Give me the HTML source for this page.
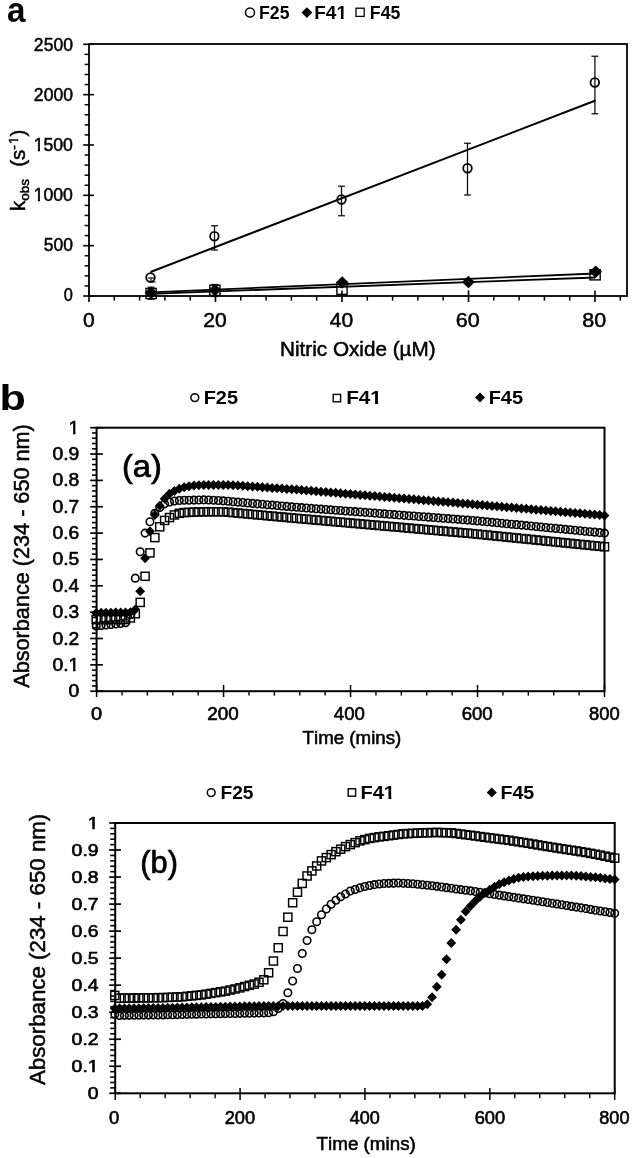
<!DOCTYPE html>
<html><head><meta charset="utf-8"><title>Figure</title>
<style>html,body{margin:0;padding:0;background:#fff}svg{display:block;filter:grayscale(1)}text{font-family:"Liberation Sans",sans-serif;fill:#000;font-kerning:none}</style></head>
<body>
<svg width="632" height="1158" viewBox="0 0 632 1158">
<rect width="632" height="1158" fill="#fff"/>
<g id="pa">
<text transform="translate(7.00,22.30) scale(0.9224,1)" font-size="36" font-weight="bold" fill="#000">a</text>
<circle cx="250.00" cy="12.50" r="4.5" fill="none" stroke="#000" stroke-width="1.5"/>
<text transform="translate(259.10,18.75) scale(1.0079,1)" font-size="17.5" font-weight="bold" fill="#000">F25</text>
<path d="M306.90 7.20L312.30 12.60L306.90 18.00L301.50 12.60Z" fill="#000"/>
<text transform="translate(314.26,18.75) scale(1.0867,1)" font-size="17.5" font-weight="bold" fill="#000">F41</text>
<g transform="translate(314.26,18.75) scale(1.0867,1)" fill="#fff"><rect x="20.67" y="-2.64" width="3.78" height="4.34"/><rect x="26.96" y="-2.64" width="3.56" height="4.34"/></g>
<rect x="356.00" y="8.20" width="8.2" height="8.2" fill="none" stroke="#000" stroke-width="1.3"/>
<text transform="translate(369.85,18.75) scale(1.0096,1)" font-size="17.5" font-weight="bold" fill="#000">F45</text>
<rect x="89.0" y="44.0" width="538.0" height="252.0" fill="none" stroke="#000" stroke-width="1.8"/>
<line x1="83.20" y1="296.00" x2="94.00" y2="296.00" stroke="#000" stroke-width="1.6" stroke-linecap="butt"/>
<line x1="84.60" y1="285.93" x2="89.00" y2="285.93" stroke="#000" stroke-width="1.5" stroke-linecap="butt"/>
<line x1="84.60" y1="275.86" x2="89.00" y2="275.86" stroke="#000" stroke-width="1.5" stroke-linecap="butt"/>
<line x1="84.60" y1="265.80" x2="89.00" y2="265.80" stroke="#000" stroke-width="1.5" stroke-linecap="butt"/>
<line x1="84.60" y1="255.73" x2="89.00" y2="255.73" stroke="#000" stroke-width="1.5" stroke-linecap="butt"/>
<line x1="83.20" y1="245.66" x2="94.00" y2="245.66" stroke="#000" stroke-width="1.6" stroke-linecap="butt"/>
<line x1="84.60" y1="235.59" x2="89.00" y2="235.59" stroke="#000" stroke-width="1.5" stroke-linecap="butt"/>
<line x1="84.60" y1="225.52" x2="89.00" y2="225.52" stroke="#000" stroke-width="1.5" stroke-linecap="butt"/>
<line x1="84.60" y1="215.46" x2="89.00" y2="215.46" stroke="#000" stroke-width="1.5" stroke-linecap="butt"/>
<line x1="84.60" y1="205.39" x2="89.00" y2="205.39" stroke="#000" stroke-width="1.5" stroke-linecap="butt"/>
<line x1="83.20" y1="195.32" x2="94.00" y2="195.32" stroke="#000" stroke-width="1.6" stroke-linecap="butt"/>
<line x1="84.60" y1="185.25" x2="89.00" y2="185.25" stroke="#000" stroke-width="1.5" stroke-linecap="butt"/>
<line x1="84.60" y1="175.18" x2="89.00" y2="175.18" stroke="#000" stroke-width="1.5" stroke-linecap="butt"/>
<line x1="84.60" y1="165.12" x2="89.00" y2="165.12" stroke="#000" stroke-width="1.5" stroke-linecap="butt"/>
<line x1="84.60" y1="155.05" x2="89.00" y2="155.05" stroke="#000" stroke-width="1.5" stroke-linecap="butt"/>
<line x1="83.20" y1="144.98" x2="94.00" y2="144.98" stroke="#000" stroke-width="1.6" stroke-linecap="butt"/>
<line x1="84.60" y1="134.91" x2="89.00" y2="134.91" stroke="#000" stroke-width="1.5" stroke-linecap="butt"/>
<line x1="84.60" y1="124.84" x2="89.00" y2="124.84" stroke="#000" stroke-width="1.5" stroke-linecap="butt"/>
<line x1="84.60" y1="114.78" x2="89.00" y2="114.78" stroke="#000" stroke-width="1.5" stroke-linecap="butt"/>
<line x1="84.60" y1="104.71" x2="89.00" y2="104.71" stroke="#000" stroke-width="1.5" stroke-linecap="butt"/>
<line x1="83.20" y1="94.64" x2="94.00" y2="94.64" stroke="#000" stroke-width="1.6" stroke-linecap="butt"/>
<line x1="84.60" y1="84.57" x2="89.00" y2="84.57" stroke="#000" stroke-width="1.5" stroke-linecap="butt"/>
<line x1="84.60" y1="74.50" x2="89.00" y2="74.50" stroke="#000" stroke-width="1.5" stroke-linecap="butt"/>
<line x1="84.60" y1="64.44" x2="89.00" y2="64.44" stroke="#000" stroke-width="1.5" stroke-linecap="butt"/>
<line x1="84.60" y1="54.37" x2="89.00" y2="54.37" stroke="#000" stroke-width="1.5" stroke-linecap="butt"/>
<line x1="83.20" y1="44.30" x2="94.00" y2="44.30" stroke="#000" stroke-width="1.6" stroke-linecap="butt"/>
<line x1="89.00" y1="290.40" x2="89.00" y2="302.00" stroke="#000" stroke-width="1.6" stroke-linecap="butt"/>
<line x1="114.30" y1="296.00" x2="114.30" y2="300.60" stroke="#000" stroke-width="1.5" stroke-linecap="butt"/>
<line x1="139.60" y1="296.00" x2="139.60" y2="300.60" stroke="#000" stroke-width="1.5" stroke-linecap="butt"/>
<line x1="164.90" y1="296.00" x2="164.90" y2="300.60" stroke="#000" stroke-width="1.5" stroke-linecap="butt"/>
<line x1="190.20" y1="296.00" x2="190.20" y2="300.60" stroke="#000" stroke-width="1.5" stroke-linecap="butt"/>
<line x1="215.50" y1="290.40" x2="215.50" y2="302.00" stroke="#000" stroke-width="1.6" stroke-linecap="butt"/>
<line x1="240.80" y1="296.00" x2="240.80" y2="300.60" stroke="#000" stroke-width="1.5" stroke-linecap="butt"/>
<line x1="266.10" y1="296.00" x2="266.10" y2="300.60" stroke="#000" stroke-width="1.5" stroke-linecap="butt"/>
<line x1="291.40" y1="296.00" x2="291.40" y2="300.60" stroke="#000" stroke-width="1.5" stroke-linecap="butt"/>
<line x1="316.70" y1="296.00" x2="316.70" y2="300.60" stroke="#000" stroke-width="1.5" stroke-linecap="butt"/>
<line x1="342.00" y1="290.40" x2="342.00" y2="302.00" stroke="#000" stroke-width="1.6" stroke-linecap="butt"/>
<line x1="367.30" y1="296.00" x2="367.30" y2="300.60" stroke="#000" stroke-width="1.5" stroke-linecap="butt"/>
<line x1="392.60" y1="296.00" x2="392.60" y2="300.60" stroke="#000" stroke-width="1.5" stroke-linecap="butt"/>
<line x1="417.90" y1="296.00" x2="417.90" y2="300.60" stroke="#000" stroke-width="1.5" stroke-linecap="butt"/>
<line x1="443.20" y1="296.00" x2="443.20" y2="300.60" stroke="#000" stroke-width="1.5" stroke-linecap="butt"/>
<line x1="468.50" y1="290.40" x2="468.50" y2="302.00" stroke="#000" stroke-width="1.6" stroke-linecap="butt"/>
<line x1="493.80" y1="296.00" x2="493.80" y2="300.60" stroke="#000" stroke-width="1.5" stroke-linecap="butt"/>
<line x1="519.10" y1="296.00" x2="519.10" y2="300.60" stroke="#000" stroke-width="1.5" stroke-linecap="butt"/>
<line x1="544.40" y1="296.00" x2="544.40" y2="300.60" stroke="#000" stroke-width="1.5" stroke-linecap="butt"/>
<line x1="569.70" y1="296.00" x2="569.70" y2="300.60" stroke="#000" stroke-width="1.5" stroke-linecap="butt"/>
<line x1="595.00" y1="290.40" x2="595.00" y2="302.00" stroke="#000" stroke-width="1.6" stroke-linecap="butt"/>
<line x1="620.30" y1="296.00" x2="620.30" y2="300.60" stroke="#000" stroke-width="1.5" stroke-linecap="butt"/>
<text transform="translate(33.87,51.20) scale(1.0037,1)" font-size="17.5" stroke="#000" stroke-width="0.5" fill="#000">2500</text>
<text transform="translate(33.87,101.20) scale(1.0037,1)" font-size="17.5" stroke="#000" stroke-width="0.5" fill="#000">2000</text>
<text transform="translate(33.67,151.20) scale(1.0089,1)" font-size="17.5" stroke="#000" stroke-width="0.5" fill="#000">1500</text>
<g transform="translate(33.67,151.20) scale(1.0089,1)" fill="#fff"><rect x="0.23" y="-2.41" width="3.87" height="4.11"/><rect x="6.25" y="-2.41" width="3.73" height="4.11"/></g>
<text transform="translate(33.67,201.20) scale(1.0089,1)" font-size="17.5" stroke="#000" stroke-width="0.5" fill="#000">1000</text>
<g transform="translate(33.67,201.20) scale(1.0089,1)" fill="#fff"><rect x="0.23" y="-2.41" width="3.87" height="4.11"/><rect x="6.25" y="-2.41" width="3.73" height="4.11"/></g>
<text transform="translate(43.80,251.20) scale(1.0005,1)" font-size="17.5" stroke="#000" stroke-width="0.5" fill="#000">500</text>
<text transform="translate(63.85,301.20) scale(0.9323,1)" font-size="17.5" stroke="#000" stroke-width="0.5" fill="#000">0</text>
<text transform="translate(82.91,327.10) scale(1.0526,1)" font-size="20" stroke="#000" stroke-width="0.5" fill="#000">0</text>
<text transform="translate(203.20,327.10) scale(1.0539,1)" font-size="20" stroke="#000" stroke-width="0.5" fill="#000">20</text>
<text transform="translate(329.72,327.10) scale(1.0526,1)" font-size="20" stroke="#000" stroke-width="0.5" fill="#000">40</text>
<text transform="translate(455.67,327.10) scale(1.0784,1)" font-size="20" stroke="#000" stroke-width="0.5" fill="#000">60</text>
<text transform="translate(582.28,327.10) scale(1.0732,1)" font-size="20" stroke="#000" stroke-width="0.5" fill="#000">80</text>
<text transform="translate(280.09,356.30) scale(1.0193,1)" font-size="20.3" stroke="#000" stroke-width="0.5" fill="#000">Nitric Oxide (µM)</text>
<g transform="translate(25.2,211) rotate(-90)" stroke="#000" stroke-width="0.5"><text font-size="20.5"><tspan x="0" y="0">k</tspan><tspan font-size="13.5" y="4">obs</tspan><tspan x="44.2" y="0">(</tspan><tspan x="51.1" y="0">s</tspan><tspan font-size="13.5" x="61.2" y="-7.5">-</tspan><tspan font-size="13.5" x="66.9" y="-7.5">1</tspan><tspan x="74.6" y="0">)</tspan></text><rect x="67.2" y="-9.5" width="2.8" height="3.2" fill="#fff" stroke="none"/><rect x="71.8" y="-9.5" width="2.6" height="3.2" fill="#fff" stroke="none"/></g>
<line x1="150.50" y1="272.00" x2="595.50" y2="100.50" stroke="#000" stroke-width="2.0" stroke-linecap="butt"/>
<line x1="151.00" y1="292.30" x2="595.50" y2="273.50" stroke="#000" stroke-width="1.8" stroke-linecap="butt"/>
<line x1="151.00" y1="293.80" x2="595.50" y2="277.50" stroke="#000" stroke-width="1.8" stroke-linecap="butt"/>
<line x1="214.50" y1="225.75" x2="214.50" y2="250.00" stroke="#111" stroke-width="1.3" stroke-linecap="butt"/>
<line x1="211.10" y1="225.75" x2="217.90" y2="225.75" stroke="#111" stroke-width="1.3" stroke-linecap="butt"/>
<line x1="211.10" y1="250.00" x2="217.90" y2="250.00" stroke="#111" stroke-width="1.3" stroke-linecap="butt"/>
<line x1="341.50" y1="186.25" x2="341.50" y2="215.75" stroke="#111" stroke-width="1.3" stroke-linecap="butt"/>
<line x1="338.10" y1="186.25" x2="344.90" y2="186.25" stroke="#111" stroke-width="1.3" stroke-linecap="butt"/>
<line x1="338.10" y1="215.75" x2="344.90" y2="215.75" stroke="#111" stroke-width="1.3" stroke-linecap="butt"/>
<line x1="467.50" y1="143.25" x2="467.50" y2="195.00" stroke="#111" stroke-width="1.3" stroke-linecap="butt"/>
<line x1="464.10" y1="143.25" x2="470.90" y2="143.25" stroke="#111" stroke-width="1.3" stroke-linecap="butt"/>
<line x1="464.10" y1="195.00" x2="470.90" y2="195.00" stroke="#111" stroke-width="1.3" stroke-linecap="butt"/>
<line x1="594.90" y1="56.25" x2="594.90" y2="113.75" stroke="#111" stroke-width="1.3" stroke-linecap="butt"/>
<line x1="591.50" y1="56.25" x2="598.30" y2="56.25" stroke="#111" stroke-width="1.3" stroke-linecap="butt"/>
<line x1="591.50" y1="113.75" x2="598.30" y2="113.75" stroke="#111" stroke-width="1.3" stroke-linecap="butt"/>
<line x1="151.00" y1="278.00" x2="151.00" y2="282.00" stroke="#111" stroke-width="1.2" stroke-linecap="butt"/>
<line x1="148.00" y1="278.00" x2="154.00" y2="278.00" stroke="#111" stroke-width="1.2" stroke-linecap="butt"/>
<line x1="149.50" y1="282.00" x2="155.50" y2="282.00" stroke="#111" stroke-width="1.2" stroke-linecap="butt"/>
<circle cx="150.50" cy="277.50" r="4.3" fill="none" stroke="#000" stroke-width="1.8"/>
<circle cx="214.40" cy="236.25" r="4.3" fill="none" stroke="#000" stroke-width="1.8"/>
<circle cx="341.50" cy="199.50" r="4.3" fill="none" stroke="#000" stroke-width="1.8"/>
<circle cx="467.50" cy="168.25" r="4.3" fill="none" stroke="#000" stroke-width="1.8"/>
<circle cx="594.80" cy="82.50" r="4.3" fill="none" stroke="#000" stroke-width="1.8"/>
<rect x="146.00" y="288.40" width="10.2" height="10.2" fill="none" stroke="#000" stroke-width="1.4"/>
<rect x="209.80" y="285.20" width="10.2" height="10.2" fill="none" stroke="#000" stroke-width="1.4"/>
<rect x="336.90" y="284.20" width="10.2" height="10.2" fill="none" stroke="#000" stroke-width="1.4"/>
<rect x="590.00" y="269.70" width="10.2" height="10.2" fill="none" stroke="#000" stroke-width="1.4"/>
<line x1="151.10" y1="287.20" x2="151.10" y2="299.20" stroke="#000" stroke-width="1.2" stroke-linecap="butt"/>
<line x1="147.70" y1="287.20" x2="154.50" y2="287.20" stroke="#000" stroke-width="1.2" stroke-linecap="butt"/>
<line x1="147.70" y1="299.20" x2="154.50" y2="299.20" stroke="#000" stroke-width="1.2" stroke-linecap="butt"/>
<line x1="214.90" y1="284.50" x2="214.90" y2="296.50" stroke="#000" stroke-width="1.2" stroke-linecap="butt"/>
<line x1="211.50" y1="284.50" x2="218.30" y2="284.50" stroke="#000" stroke-width="1.2" stroke-linecap="butt"/>
<line x1="211.50" y1="296.50" x2="218.30" y2="296.50" stroke="#000" stroke-width="1.2" stroke-linecap="butt"/>
<path d="M151.10 286.50L157.50 292.80L151.10 299.10L144.70 292.80Z" fill="#000"/>
<path d="M214.90 283.70L221.30 290.00L214.90 296.30L208.50 290.00Z" fill="#000"/>
<path d="M342.20 276.20L348.60 282.50L342.20 288.80L335.80 282.50Z" fill="#000"/>
<path d="M468.40 275.70L474.80 282.00L468.40 288.30L462.00 282.00Z" fill="#000"/>
<path d="M595.70 265.50L602.10 271.80L595.70 278.10L589.30 271.80Z" fill="#000"/>
</g>
<g id="pb1">
<text transform="translate(-0.61,410.30) scale(1.1991,1)" font-size="36" font-weight="bold" fill="#000">b</text>
<circle cx="194.80" cy="397.60" r="3.9" fill="none" stroke="#000" stroke-width="1.5"/>
<text transform="translate(203.70,404.20) scale(1.1077,1)" font-size="18" font-weight="bold" fill="#000">F25</text>
<rect x="333.20" y="394.40" width="7.4" height="7.4" fill="none" stroke="#000" stroke-width="1.4"/>
<text transform="translate(346.15,404.20) scale(1.1509,1)" font-size="18" font-weight="bold" fill="#000">F41</text>
<g transform="translate(346.15,404.20) scale(1.1509,1)" fill="#fff"><rect x="21.29" y="-2.69" width="3.87" height="4.39"/><rect x="27.73" y="-2.69" width="3.64" height="4.39"/></g>
<path d="M480.00 392.60L485.00 397.60L480.00 402.60L475.00 397.60Z" fill="#000"/>
<text transform="translate(488.70,404.20) scale(1.1077,1)" font-size="18" font-weight="bold" fill="#000">F45</text>
<rect x="96.6" y="427.7" width="507.9" height="263.50000000000006" fill="none" stroke="#000" stroke-width="2.0"/>
<line x1="90.20" y1="691.20" x2="102.90" y2="691.20" stroke="#000" stroke-width="1.7" stroke-linecap="butt"/>
<line x1="92.00" y1="685.93" x2="96.60" y2="685.93" stroke="#000" stroke-width="1.6" stroke-linecap="butt"/>
<line x1="92.00" y1="680.66" x2="96.60" y2="680.66" stroke="#000" stroke-width="1.6" stroke-linecap="butt"/>
<line x1="92.00" y1="675.39" x2="96.60" y2="675.39" stroke="#000" stroke-width="1.6" stroke-linecap="butt"/>
<line x1="92.00" y1="670.12" x2="96.60" y2="670.12" stroke="#000" stroke-width="1.6" stroke-linecap="butt"/>
<line x1="90.20" y1="664.85" x2="102.90" y2="664.85" stroke="#000" stroke-width="1.7" stroke-linecap="butt"/>
<line x1="92.00" y1="659.58" x2="96.60" y2="659.58" stroke="#000" stroke-width="1.6" stroke-linecap="butt"/>
<line x1="92.00" y1="654.31" x2="96.60" y2="654.31" stroke="#000" stroke-width="1.6" stroke-linecap="butt"/>
<line x1="92.00" y1="649.04" x2="96.60" y2="649.04" stroke="#000" stroke-width="1.6" stroke-linecap="butt"/>
<line x1="92.00" y1="643.77" x2="96.60" y2="643.77" stroke="#000" stroke-width="1.6" stroke-linecap="butt"/>
<line x1="90.20" y1="638.50" x2="102.90" y2="638.50" stroke="#000" stroke-width="1.7" stroke-linecap="butt"/>
<line x1="92.00" y1="633.23" x2="96.60" y2="633.23" stroke="#000" stroke-width="1.6" stroke-linecap="butt"/>
<line x1="92.00" y1="627.96" x2="96.60" y2="627.96" stroke="#000" stroke-width="1.6" stroke-linecap="butt"/>
<line x1="92.00" y1="622.69" x2="96.60" y2="622.69" stroke="#000" stroke-width="1.6" stroke-linecap="butt"/>
<line x1="92.00" y1="617.42" x2="96.60" y2="617.42" stroke="#000" stroke-width="1.6" stroke-linecap="butt"/>
<line x1="90.20" y1="612.15" x2="102.90" y2="612.15" stroke="#000" stroke-width="1.7" stroke-linecap="butt"/>
<line x1="92.00" y1="606.88" x2="96.60" y2="606.88" stroke="#000" stroke-width="1.6" stroke-linecap="butt"/>
<line x1="92.00" y1="601.61" x2="96.60" y2="601.61" stroke="#000" stroke-width="1.6" stroke-linecap="butt"/>
<line x1="92.00" y1="596.34" x2="96.60" y2="596.34" stroke="#000" stroke-width="1.6" stroke-linecap="butt"/>
<line x1="92.00" y1="591.07" x2="96.60" y2="591.07" stroke="#000" stroke-width="1.6" stroke-linecap="butt"/>
<line x1="90.20" y1="585.80" x2="102.90" y2="585.80" stroke="#000" stroke-width="1.7" stroke-linecap="butt"/>
<line x1="92.00" y1="580.53" x2="96.60" y2="580.53" stroke="#000" stroke-width="1.6" stroke-linecap="butt"/>
<line x1="92.00" y1="575.26" x2="96.60" y2="575.26" stroke="#000" stroke-width="1.6" stroke-linecap="butt"/>
<line x1="92.00" y1="569.99" x2="96.60" y2="569.99" stroke="#000" stroke-width="1.6" stroke-linecap="butt"/>
<line x1="92.00" y1="564.72" x2="96.60" y2="564.72" stroke="#000" stroke-width="1.6" stroke-linecap="butt"/>
<line x1="90.20" y1="559.45" x2="102.90" y2="559.45" stroke="#000" stroke-width="1.7" stroke-linecap="butt"/>
<line x1="92.00" y1="554.18" x2="96.60" y2="554.18" stroke="#000" stroke-width="1.6" stroke-linecap="butt"/>
<line x1="92.00" y1="548.91" x2="96.60" y2="548.91" stroke="#000" stroke-width="1.6" stroke-linecap="butt"/>
<line x1="92.00" y1="543.64" x2="96.60" y2="543.64" stroke="#000" stroke-width="1.6" stroke-linecap="butt"/>
<line x1="92.00" y1="538.37" x2="96.60" y2="538.37" stroke="#000" stroke-width="1.6" stroke-linecap="butt"/>
<line x1="90.20" y1="533.10" x2="102.90" y2="533.10" stroke="#000" stroke-width="1.7" stroke-linecap="butt"/>
<line x1="92.00" y1="527.83" x2="96.60" y2="527.83" stroke="#000" stroke-width="1.6" stroke-linecap="butt"/>
<line x1="92.00" y1="522.56" x2="96.60" y2="522.56" stroke="#000" stroke-width="1.6" stroke-linecap="butt"/>
<line x1="92.00" y1="517.29" x2="96.60" y2="517.29" stroke="#000" stroke-width="1.6" stroke-linecap="butt"/>
<line x1="92.00" y1="512.02" x2="96.60" y2="512.02" stroke="#000" stroke-width="1.6" stroke-linecap="butt"/>
<line x1="90.20" y1="506.75" x2="102.90" y2="506.75" stroke="#000" stroke-width="1.7" stroke-linecap="butt"/>
<line x1="92.00" y1="501.48" x2="96.60" y2="501.48" stroke="#000" stroke-width="1.6" stroke-linecap="butt"/>
<line x1="92.00" y1="496.21" x2="96.60" y2="496.21" stroke="#000" stroke-width="1.6" stroke-linecap="butt"/>
<line x1="92.00" y1="490.94" x2="96.60" y2="490.94" stroke="#000" stroke-width="1.6" stroke-linecap="butt"/>
<line x1="92.00" y1="485.67" x2="96.60" y2="485.67" stroke="#000" stroke-width="1.6" stroke-linecap="butt"/>
<line x1="90.20" y1="480.40" x2="102.90" y2="480.40" stroke="#000" stroke-width="1.7" stroke-linecap="butt"/>
<line x1="92.00" y1="475.13" x2="96.60" y2="475.13" stroke="#000" stroke-width="1.6" stroke-linecap="butt"/>
<line x1="92.00" y1="469.86" x2="96.60" y2="469.86" stroke="#000" stroke-width="1.6" stroke-linecap="butt"/>
<line x1="92.00" y1="464.59" x2="96.60" y2="464.59" stroke="#000" stroke-width="1.6" stroke-linecap="butt"/>
<line x1="92.00" y1="459.32" x2="96.60" y2="459.32" stroke="#000" stroke-width="1.6" stroke-linecap="butt"/>
<line x1="90.20" y1="454.05" x2="102.90" y2="454.05" stroke="#000" stroke-width="1.7" stroke-linecap="butt"/>
<line x1="92.00" y1="448.78" x2="96.60" y2="448.78" stroke="#000" stroke-width="1.6" stroke-linecap="butt"/>
<line x1="92.00" y1="443.51" x2="96.60" y2="443.51" stroke="#000" stroke-width="1.6" stroke-linecap="butt"/>
<line x1="92.00" y1="438.24" x2="96.60" y2="438.24" stroke="#000" stroke-width="1.6" stroke-linecap="butt"/>
<line x1="92.00" y1="432.97" x2="96.60" y2="432.97" stroke="#000" stroke-width="1.6" stroke-linecap="butt"/>
<line x1="90.20" y1="427.70" x2="102.90" y2="427.70" stroke="#000" stroke-width="1.7" stroke-linecap="butt"/>
<line x1="96.60" y1="685.00" x2="96.60" y2="697.00" stroke="#000" stroke-width="1.5" stroke-linecap="butt"/>
<line x1="121.99" y1="691.20" x2="121.99" y2="695.60" stroke="#000" stroke-width="1.4" stroke-linecap="butt"/>
<line x1="147.39" y1="691.20" x2="147.39" y2="695.60" stroke="#000" stroke-width="1.4" stroke-linecap="butt"/>
<line x1="172.78" y1="691.20" x2="172.78" y2="695.60" stroke="#000" stroke-width="1.4" stroke-linecap="butt"/>
<line x1="198.18" y1="691.20" x2="198.18" y2="695.60" stroke="#000" stroke-width="1.4" stroke-linecap="butt"/>
<line x1="223.57" y1="685.00" x2="223.57" y2="697.00" stroke="#000" stroke-width="1.5" stroke-linecap="butt"/>
<line x1="248.97" y1="691.20" x2="248.97" y2="695.60" stroke="#000" stroke-width="1.4" stroke-linecap="butt"/>
<line x1="274.37" y1="691.20" x2="274.37" y2="695.60" stroke="#000" stroke-width="1.4" stroke-linecap="butt"/>
<line x1="299.76" y1="691.20" x2="299.76" y2="695.60" stroke="#000" stroke-width="1.4" stroke-linecap="butt"/>
<line x1="325.15" y1="691.20" x2="325.15" y2="695.60" stroke="#000" stroke-width="1.4" stroke-linecap="butt"/>
<line x1="350.55" y1="685.00" x2="350.55" y2="697.00" stroke="#000" stroke-width="1.5" stroke-linecap="butt"/>
<line x1="375.95" y1="691.20" x2="375.95" y2="695.60" stroke="#000" stroke-width="1.4" stroke-linecap="butt"/>
<line x1="401.34" y1="691.20" x2="401.34" y2="695.60" stroke="#000" stroke-width="1.4" stroke-linecap="butt"/>
<line x1="426.74" y1="691.20" x2="426.74" y2="695.60" stroke="#000" stroke-width="1.4" stroke-linecap="butt"/>
<line x1="452.13" y1="691.20" x2="452.13" y2="695.60" stroke="#000" stroke-width="1.4" stroke-linecap="butt"/>
<line x1="477.52" y1="685.00" x2="477.52" y2="697.00" stroke="#000" stroke-width="1.5" stroke-linecap="butt"/>
<line x1="502.92" y1="691.20" x2="502.92" y2="695.60" stroke="#000" stroke-width="1.4" stroke-linecap="butt"/>
<line x1="528.31" y1="691.20" x2="528.31" y2="695.60" stroke="#000" stroke-width="1.4" stroke-linecap="butt"/>
<line x1="553.71" y1="691.20" x2="553.71" y2="695.60" stroke="#000" stroke-width="1.4" stroke-linecap="butt"/>
<line x1="579.11" y1="691.20" x2="579.11" y2="695.60" stroke="#000" stroke-width="1.4" stroke-linecap="butt"/>
<line x1="604.50" y1="685.00" x2="604.50" y2="697.00" stroke="#000" stroke-width="1.5" stroke-linecap="butt"/>
<circle cx="96.20" cy="626.12" r="3.75" fill="none" stroke="#000" stroke-width="1.6"/>
<circle cx="101.09" cy="625.59" r="3.75" fill="none" stroke="#000" stroke-width="1.6"/>
<circle cx="105.97" cy="625.06" r="3.75" fill="none" stroke="#000" stroke-width="1.6"/>
<circle cx="110.86" cy="624.53" r="3.75" fill="none" stroke="#000" stroke-width="1.6"/>
<circle cx="115.75" cy="624.01" r="3.75" fill="none" stroke="#000" stroke-width="1.6"/>
<circle cx="120.64" cy="623.48" r="3.75" fill="none" stroke="#000" stroke-width="1.6"/>
<circle cx="125.52" cy="622.69" r="3.75" fill="none" stroke="#000" stroke-width="1.6"/>
<circle cx="130.41" cy="614.79" r="3.75" fill="none" stroke="#000" stroke-width="1.6"/>
<circle cx="135.30" cy="578.16" r="3.75" fill="none" stroke="#000" stroke-width="1.6"/>
<circle cx="140.19" cy="551.81" r="3.75" fill="none" stroke="#000" stroke-width="1.6"/>
<circle cx="145.07" cy="533.10" r="3.75" fill="none" stroke="#000" stroke-width="1.6"/>
<circle cx="149.96" cy="521.77" r="3.75" fill="none" stroke="#000" stroke-width="1.6"/>
<circle cx="154.85" cy="513.34" r="3.75" fill="none" stroke="#000" stroke-width="1.6"/>
<circle cx="159.74" cy="507.54" r="3.75" fill="none" stroke="#000" stroke-width="1.6"/>
<circle cx="164.62" cy="503.85" r="3.75" fill="none" stroke="#000" stroke-width="1.6"/>
<circle cx="169.51" cy="502.01" r="3.75" fill="none" stroke="#000" stroke-width="1.6"/>
<circle cx="174.40" cy="500.95" r="3.75" fill="none" stroke="#000" stroke-width="1.6"/>
<circle cx="179.29" cy="500.43" r="3.75" fill="none" stroke="#000" stroke-width="1.6"/>
<circle cx="184.17" cy="500.32" r="3.75" fill="none" stroke="#000" stroke-width="1.6"/>
<circle cx="189.06" cy="500.22" r="3.75" fill="none" stroke="#000" stroke-width="1.6"/>
<circle cx="193.95" cy="500.11" r="3.75" fill="none" stroke="#000" stroke-width="1.6"/>
<circle cx="198.84" cy="500.00" r="3.75" fill="none" stroke="#000" stroke-width="1.6"/>
<circle cx="203.72" cy="499.90" r="3.75" fill="none" stroke="#000" stroke-width="1.6"/>
<circle cx="208.61" cy="500.07" r="3.75" fill="none" stroke="#000" stroke-width="1.6"/>
<circle cx="213.50" cy="500.25" r="3.75" fill="none" stroke="#000" stroke-width="1.6"/>
<circle cx="218.39" cy="500.43" r="3.75" fill="none" stroke="#000" stroke-width="1.6"/>
<circle cx="223.27" cy="500.85" r="3.75" fill="none" stroke="#000" stroke-width="1.6"/>
<circle cx="228.16" cy="501.28" r="3.75" fill="none" stroke="#000" stroke-width="1.6"/>
<circle cx="233.05" cy="501.71" r="3.75" fill="none" stroke="#000" stroke-width="1.6"/>
<circle cx="237.94" cy="502.14" r="3.75" fill="none" stroke="#000" stroke-width="1.6"/>
<circle cx="242.82" cy="502.57" r="3.75" fill="none" stroke="#000" stroke-width="1.6"/>
<circle cx="247.71" cy="503.00" r="3.75" fill="none" stroke="#000" stroke-width="1.6"/>
<circle cx="252.60" cy="503.42" r="3.75" fill="none" stroke="#000" stroke-width="1.6"/>
<circle cx="257.49" cy="503.85" r="3.75" fill="none" stroke="#000" stroke-width="1.6"/>
<circle cx="262.38" cy="504.28" r="3.75" fill="none" stroke="#000" stroke-width="1.6"/>
<circle cx="267.26" cy="504.71" r="3.75" fill="none" stroke="#000" stroke-width="1.6"/>
<circle cx="272.15" cy="505.14" r="3.75" fill="none" stroke="#000" stroke-width="1.6"/>
<circle cx="277.04" cy="505.56" r="3.75" fill="none" stroke="#000" stroke-width="1.6"/>
<circle cx="281.92" cy="505.99" r="3.75" fill="none" stroke="#000" stroke-width="1.6"/>
<circle cx="286.81" cy="506.42" r="3.75" fill="none" stroke="#000" stroke-width="1.6"/>
<circle cx="291.70" cy="506.85" r="3.75" fill="none" stroke="#000" stroke-width="1.6"/>
<circle cx="296.59" cy="507.28" r="3.75" fill="none" stroke="#000" stroke-width="1.6"/>
<circle cx="301.47" cy="507.64" r="3.75" fill="none" stroke="#000" stroke-width="1.6"/>
<circle cx="306.36" cy="508.01" r="3.75" fill="none" stroke="#000" stroke-width="1.6"/>
<circle cx="311.25" cy="508.37" r="3.75" fill="none" stroke="#000" stroke-width="1.6"/>
<circle cx="316.14" cy="508.74" r="3.75" fill="none" stroke="#000" stroke-width="1.6"/>
<circle cx="321.02" cy="509.11" r="3.75" fill="none" stroke="#000" stroke-width="1.6"/>
<circle cx="325.91" cy="509.47" r="3.75" fill="none" stroke="#000" stroke-width="1.6"/>
<circle cx="330.80" cy="509.84" r="3.75" fill="none" stroke="#000" stroke-width="1.6"/>
<circle cx="335.69" cy="510.20" r="3.75" fill="none" stroke="#000" stroke-width="1.6"/>
<circle cx="340.57" cy="510.57" r="3.75" fill="none" stroke="#000" stroke-width="1.6"/>
<circle cx="345.46" cy="510.94" r="3.75" fill="none" stroke="#000" stroke-width="1.6"/>
<circle cx="350.35" cy="511.30" r="3.75" fill="none" stroke="#000" stroke-width="1.6"/>
<circle cx="355.24" cy="511.67" r="3.75" fill="none" stroke="#000" stroke-width="1.6"/>
<circle cx="360.12" cy="512.03" r="3.75" fill="none" stroke="#000" stroke-width="1.6"/>
<circle cx="365.01" cy="512.40" r="3.75" fill="none" stroke="#000" stroke-width="1.6"/>
<circle cx="369.90" cy="512.77" r="3.75" fill="none" stroke="#000" stroke-width="1.6"/>
<circle cx="374.79" cy="513.13" r="3.75" fill="none" stroke="#000" stroke-width="1.6"/>
<circle cx="379.67" cy="513.50" r="3.75" fill="none" stroke="#000" stroke-width="1.6"/>
<circle cx="384.56" cy="513.86" r="3.75" fill="none" stroke="#000" stroke-width="1.6"/>
<circle cx="389.45" cy="514.23" r="3.75" fill="none" stroke="#000" stroke-width="1.6"/>
<circle cx="394.34" cy="514.60" r="3.75" fill="none" stroke="#000" stroke-width="1.6"/>
<circle cx="399.22" cy="514.96" r="3.75" fill="none" stroke="#000" stroke-width="1.6"/>
<circle cx="404.11" cy="515.33" r="3.75" fill="none" stroke="#000" stroke-width="1.6"/>
<circle cx="409.00" cy="515.69" r="3.75" fill="none" stroke="#000" stroke-width="1.6"/>
<circle cx="413.89" cy="516.06" r="3.75" fill="none" stroke="#000" stroke-width="1.6"/>
<circle cx="418.77" cy="516.43" r="3.75" fill="none" stroke="#000" stroke-width="1.6"/>
<circle cx="423.66" cy="516.79" r="3.75" fill="none" stroke="#000" stroke-width="1.6"/>
<circle cx="428.55" cy="517.16" r="3.75" fill="none" stroke="#000" stroke-width="1.6"/>
<circle cx="433.44" cy="517.52" r="3.75" fill="none" stroke="#000" stroke-width="1.6"/>
<circle cx="438.32" cy="517.89" r="3.75" fill="none" stroke="#000" stroke-width="1.6"/>
<circle cx="443.21" cy="518.26" r="3.75" fill="none" stroke="#000" stroke-width="1.6"/>
<circle cx="448.10" cy="518.62" r="3.75" fill="none" stroke="#000" stroke-width="1.6"/>
<circle cx="452.99" cy="518.99" r="3.75" fill="none" stroke="#000" stroke-width="1.6"/>
<circle cx="457.87" cy="519.35" r="3.75" fill="none" stroke="#000" stroke-width="1.6"/>
<circle cx="462.76" cy="519.72" r="3.75" fill="none" stroke="#000" stroke-width="1.6"/>
<circle cx="467.65" cy="520.09" r="3.75" fill="none" stroke="#000" stroke-width="1.6"/>
<circle cx="472.54" cy="520.45" r="3.75" fill="none" stroke="#000" stroke-width="1.6"/>
<circle cx="477.42" cy="520.92" r="3.75" fill="none" stroke="#000" stroke-width="1.6"/>
<circle cx="482.31" cy="521.39" r="3.75" fill="none" stroke="#000" stroke-width="1.6"/>
<circle cx="487.20" cy="521.86" r="3.75" fill="none" stroke="#000" stroke-width="1.6"/>
<circle cx="492.09" cy="522.33" r="3.75" fill="none" stroke="#000" stroke-width="1.6"/>
<circle cx="496.97" cy="522.79" r="3.75" fill="none" stroke="#000" stroke-width="1.6"/>
<circle cx="501.86" cy="523.26" r="3.75" fill="none" stroke="#000" stroke-width="1.6"/>
<circle cx="506.75" cy="523.73" r="3.75" fill="none" stroke="#000" stroke-width="1.6"/>
<circle cx="511.64" cy="524.20" r="3.75" fill="none" stroke="#000" stroke-width="1.6"/>
<circle cx="516.52" cy="524.67" r="3.75" fill="none" stroke="#000" stroke-width="1.6"/>
<circle cx="521.41" cy="525.14" r="3.75" fill="none" stroke="#000" stroke-width="1.6"/>
<circle cx="526.30" cy="525.60" r="3.75" fill="none" stroke="#000" stroke-width="1.6"/>
<circle cx="531.19" cy="526.07" r="3.75" fill="none" stroke="#000" stroke-width="1.6"/>
<circle cx="536.07" cy="526.54" r="3.75" fill="none" stroke="#000" stroke-width="1.6"/>
<circle cx="540.96" cy="527.01" r="3.75" fill="none" stroke="#000" stroke-width="1.6"/>
<circle cx="545.85" cy="527.48" r="3.75" fill="none" stroke="#000" stroke-width="1.6"/>
<circle cx="550.74" cy="527.95" r="3.75" fill="none" stroke="#000" stroke-width="1.6"/>
<circle cx="555.62" cy="528.42" r="3.75" fill="none" stroke="#000" stroke-width="1.6"/>
<circle cx="560.51" cy="528.88" r="3.75" fill="none" stroke="#000" stroke-width="1.6"/>
<circle cx="565.40" cy="529.35" r="3.75" fill="none" stroke="#000" stroke-width="1.6"/>
<circle cx="570.29" cy="529.82" r="3.75" fill="none" stroke="#000" stroke-width="1.6"/>
<circle cx="575.17" cy="530.29" r="3.75" fill="none" stroke="#000" stroke-width="1.6"/>
<circle cx="580.06" cy="530.76" r="3.75" fill="none" stroke="#000" stroke-width="1.6"/>
<circle cx="584.95" cy="531.23" r="3.75" fill="none" stroke="#000" stroke-width="1.6"/>
<circle cx="589.84" cy="531.69" r="3.75" fill="none" stroke="#000" stroke-width="1.6"/>
<circle cx="594.72" cy="532.16" r="3.75" fill="none" stroke="#000" stroke-width="1.6"/>
<circle cx="599.61" cy="532.63" r="3.75" fill="none" stroke="#000" stroke-width="1.6"/>
<circle cx="604.50" cy="533.10" r="3.75" fill="none" stroke="#000" stroke-width="1.6"/>
<rect x="92.15" y="615.48" width="8.1" height="8.1" fill="none" stroke="#000" stroke-width="1.45"/>
<rect x="97.04" y="615.48" width="8.1" height="8.1" fill="none" stroke="#000" stroke-width="1.45"/>
<rect x="101.92" y="615.48" width="8.1" height="8.1" fill="none" stroke="#000" stroke-width="1.45"/>
<rect x="106.81" y="615.48" width="8.1" height="8.1" fill="none" stroke="#000" stroke-width="1.45"/>
<rect x="111.70" y="615.48" width="8.1" height="8.1" fill="none" stroke="#000" stroke-width="1.45"/>
<rect x="116.59" y="615.48" width="8.1" height="8.1" fill="none" stroke="#000" stroke-width="1.45"/>
<rect x="121.47" y="615.48" width="8.1" height="8.1" fill="none" stroke="#000" stroke-width="1.45"/>
<rect x="126.36" y="613.90" width="8.1" height="8.1" fill="none" stroke="#000" stroke-width="1.45"/>
<rect x="131.25" y="609.68" width="8.1" height="8.1" fill="none" stroke="#000" stroke-width="1.45"/>
<rect x="136.14" y="598.35" width="8.1" height="8.1" fill="none" stroke="#000" stroke-width="1.45"/>
<rect x="141.02" y="572.26" width="8.1" height="8.1" fill="none" stroke="#000" stroke-width="1.45"/>
<rect x="145.91" y="548.81" width="8.1" height="8.1" fill="none" stroke="#000" stroke-width="1.45"/>
<rect x="150.80" y="533.53" width="8.1" height="8.1" fill="none" stroke="#000" stroke-width="1.45"/>
<rect x="155.69" y="522.73" width="8.1" height="8.1" fill="none" stroke="#000" stroke-width="1.45"/>
<rect x="160.57" y="516.40" width="8.1" height="8.1" fill="none" stroke="#000" stroke-width="1.45"/>
<rect x="165.46" y="513.50" width="8.1" height="8.1" fill="none" stroke="#000" stroke-width="1.45"/>
<rect x="170.35" y="510.87" width="8.1" height="8.1" fill="none" stroke="#000" stroke-width="1.45"/>
<rect x="175.24" y="509.29" width="8.1" height="8.1" fill="none" stroke="#000" stroke-width="1.45"/>
<rect x="180.12" y="508.50" width="8.1" height="8.1" fill="none" stroke="#000" stroke-width="1.45"/>
<rect x="185.01" y="508.30" width="8.1" height="8.1" fill="none" stroke="#000" stroke-width="1.45"/>
<rect x="189.90" y="508.10" width="8.1" height="8.1" fill="none" stroke="#000" stroke-width="1.45"/>
<rect x="194.79" y="507.90" width="8.1" height="8.1" fill="none" stroke="#000" stroke-width="1.45"/>
<rect x="199.67" y="507.71" width="8.1" height="8.1" fill="none" stroke="#000" stroke-width="1.45"/>
<rect x="204.56" y="507.71" width="8.1" height="8.1" fill="none" stroke="#000" stroke-width="1.45"/>
<rect x="209.45" y="507.71" width="8.1" height="8.1" fill="none" stroke="#000" stroke-width="1.45"/>
<rect x="214.34" y="507.71" width="8.1" height="8.1" fill="none" stroke="#000" stroke-width="1.45"/>
<rect x="219.22" y="507.71" width="8.1" height="8.1" fill="none" stroke="#000" stroke-width="1.45"/>
<rect x="224.11" y="508.15" width="8.1" height="8.1" fill="none" stroke="#000" stroke-width="1.45"/>
<rect x="229.00" y="508.58" width="8.1" height="8.1" fill="none" stroke="#000" stroke-width="1.45"/>
<rect x="233.89" y="509.02" width="8.1" height="8.1" fill="none" stroke="#000" stroke-width="1.45"/>
<rect x="238.77" y="509.46" width="8.1" height="8.1" fill="none" stroke="#000" stroke-width="1.45"/>
<rect x="243.66" y="509.90" width="8.1" height="8.1" fill="none" stroke="#000" stroke-width="1.45"/>
<rect x="248.55" y="510.34" width="8.1" height="8.1" fill="none" stroke="#000" stroke-width="1.45"/>
<rect x="253.44" y="510.78" width="8.1" height="8.1" fill="none" stroke="#000" stroke-width="1.45"/>
<rect x="258.32" y="511.22" width="8.1" height="8.1" fill="none" stroke="#000" stroke-width="1.45"/>
<rect x="263.21" y="511.66" width="8.1" height="8.1" fill="none" stroke="#000" stroke-width="1.45"/>
<rect x="268.10" y="512.10" width="8.1" height="8.1" fill="none" stroke="#000" stroke-width="1.45"/>
<rect x="272.99" y="512.54" width="8.1" height="8.1" fill="none" stroke="#000" stroke-width="1.45"/>
<rect x="277.87" y="512.98" width="8.1" height="8.1" fill="none" stroke="#000" stroke-width="1.45"/>
<rect x="282.76" y="513.42" width="8.1" height="8.1" fill="none" stroke="#000" stroke-width="1.45"/>
<rect x="287.65" y="513.85" width="8.1" height="8.1" fill="none" stroke="#000" stroke-width="1.45"/>
<rect x="292.54" y="514.29" width="8.1" height="8.1" fill="none" stroke="#000" stroke-width="1.45"/>
<rect x="297.42" y="514.72" width="8.1" height="8.1" fill="none" stroke="#000" stroke-width="1.45"/>
<rect x="302.31" y="515.14" width="8.1" height="8.1" fill="none" stroke="#000" stroke-width="1.45"/>
<rect x="307.20" y="515.57" width="8.1" height="8.1" fill="none" stroke="#000" stroke-width="1.45"/>
<rect x="312.09" y="515.99" width="8.1" height="8.1" fill="none" stroke="#000" stroke-width="1.45"/>
<rect x="316.97" y="516.42" width="8.1" height="8.1" fill="none" stroke="#000" stroke-width="1.45"/>
<rect x="321.86" y="516.84" width="8.1" height="8.1" fill="none" stroke="#000" stroke-width="1.45"/>
<rect x="326.75" y="517.27" width="8.1" height="8.1" fill="none" stroke="#000" stroke-width="1.45"/>
<rect x="331.64" y="517.69" width="8.1" height="8.1" fill="none" stroke="#000" stroke-width="1.45"/>
<rect x="336.52" y="518.11" width="8.1" height="8.1" fill="none" stroke="#000" stroke-width="1.45"/>
<rect x="341.41" y="518.54" width="8.1" height="8.1" fill="none" stroke="#000" stroke-width="1.45"/>
<rect x="346.30" y="518.96" width="8.1" height="8.1" fill="none" stroke="#000" stroke-width="1.45"/>
<rect x="351.19" y="519.39" width="8.1" height="8.1" fill="none" stroke="#000" stroke-width="1.45"/>
<rect x="356.07" y="519.81" width="8.1" height="8.1" fill="none" stroke="#000" stroke-width="1.45"/>
<rect x="360.96" y="520.24" width="8.1" height="8.1" fill="none" stroke="#000" stroke-width="1.45"/>
<rect x="365.85" y="520.66" width="8.1" height="8.1" fill="none" stroke="#000" stroke-width="1.45"/>
<rect x="370.74" y="521.09" width="8.1" height="8.1" fill="none" stroke="#000" stroke-width="1.45"/>
<rect x="375.62" y="521.51" width="8.1" height="8.1" fill="none" stroke="#000" stroke-width="1.45"/>
<rect x="380.51" y="521.94" width="8.1" height="8.1" fill="none" stroke="#000" stroke-width="1.45"/>
<rect x="385.40" y="522.36" width="8.1" height="8.1" fill="none" stroke="#000" stroke-width="1.45"/>
<rect x="390.29" y="522.78" width="8.1" height="8.1" fill="none" stroke="#000" stroke-width="1.45"/>
<rect x="395.17" y="523.21" width="8.1" height="8.1" fill="none" stroke="#000" stroke-width="1.45"/>
<rect x="400.06" y="523.63" width="8.1" height="8.1" fill="none" stroke="#000" stroke-width="1.45"/>
<rect x="404.95" y="524.06" width="8.1" height="8.1" fill="none" stroke="#000" stroke-width="1.45"/>
<rect x="409.84" y="524.48" width="8.1" height="8.1" fill="none" stroke="#000" stroke-width="1.45"/>
<rect x="414.72" y="524.91" width="8.1" height="8.1" fill="none" stroke="#000" stroke-width="1.45"/>
<rect x="419.61" y="525.33" width="8.1" height="8.1" fill="none" stroke="#000" stroke-width="1.45"/>
<rect x="424.50" y="525.76" width="8.1" height="8.1" fill="none" stroke="#000" stroke-width="1.45"/>
<rect x="429.39" y="526.18" width="8.1" height="8.1" fill="none" stroke="#000" stroke-width="1.45"/>
<rect x="434.27" y="526.61" width="8.1" height="8.1" fill="none" stroke="#000" stroke-width="1.45"/>
<rect x="439.16" y="527.03" width="8.1" height="8.1" fill="none" stroke="#000" stroke-width="1.45"/>
<rect x="444.05" y="527.45" width="8.1" height="8.1" fill="none" stroke="#000" stroke-width="1.45"/>
<rect x="448.94" y="527.88" width="8.1" height="8.1" fill="none" stroke="#000" stroke-width="1.45"/>
<rect x="453.82" y="528.30" width="8.1" height="8.1" fill="none" stroke="#000" stroke-width="1.45"/>
<rect x="458.71" y="528.73" width="8.1" height="8.1" fill="none" stroke="#000" stroke-width="1.45"/>
<rect x="463.60" y="529.15" width="8.1" height="8.1" fill="none" stroke="#000" stroke-width="1.45"/>
<rect x="468.49" y="529.58" width="8.1" height="8.1" fill="none" stroke="#000" stroke-width="1.45"/>
<rect x="473.37" y="530.06" width="8.1" height="8.1" fill="none" stroke="#000" stroke-width="1.45"/>
<rect x="478.26" y="530.55" width="8.1" height="8.1" fill="none" stroke="#000" stroke-width="1.45"/>
<rect x="483.15" y="531.04" width="8.1" height="8.1" fill="none" stroke="#000" stroke-width="1.45"/>
<rect x="488.04" y="531.53" width="8.1" height="8.1" fill="none" stroke="#000" stroke-width="1.45"/>
<rect x="492.92" y="532.02" width="8.1" height="8.1" fill="none" stroke="#000" stroke-width="1.45"/>
<rect x="497.81" y="532.50" width="8.1" height="8.1" fill="none" stroke="#000" stroke-width="1.45"/>
<rect x="502.70" y="532.99" width="8.1" height="8.1" fill="none" stroke="#000" stroke-width="1.45"/>
<rect x="507.59" y="533.48" width="8.1" height="8.1" fill="none" stroke="#000" stroke-width="1.45"/>
<rect x="512.47" y="533.97" width="8.1" height="8.1" fill="none" stroke="#000" stroke-width="1.45"/>
<rect x="517.36" y="534.46" width="8.1" height="8.1" fill="none" stroke="#000" stroke-width="1.45"/>
<rect x="522.25" y="534.94" width="8.1" height="8.1" fill="none" stroke="#000" stroke-width="1.45"/>
<rect x="527.14" y="535.43" width="8.1" height="8.1" fill="none" stroke="#000" stroke-width="1.45"/>
<rect x="532.02" y="535.92" width="8.1" height="8.1" fill="none" stroke="#000" stroke-width="1.45"/>
<rect x="536.91" y="536.41" width="8.1" height="8.1" fill="none" stroke="#000" stroke-width="1.45"/>
<rect x="541.80" y="536.90" width="8.1" height="8.1" fill="none" stroke="#000" stroke-width="1.45"/>
<rect x="546.69" y="537.38" width="8.1" height="8.1" fill="none" stroke="#000" stroke-width="1.45"/>
<rect x="551.58" y="537.87" width="8.1" height="8.1" fill="none" stroke="#000" stroke-width="1.45"/>
<rect x="556.46" y="538.36" width="8.1" height="8.1" fill="none" stroke="#000" stroke-width="1.45"/>
<rect x="561.35" y="538.85" width="8.1" height="8.1" fill="none" stroke="#000" stroke-width="1.45"/>
<rect x="566.24" y="539.34" width="8.1" height="8.1" fill="none" stroke="#000" stroke-width="1.45"/>
<rect x="571.12" y="539.82" width="8.1" height="8.1" fill="none" stroke="#000" stroke-width="1.45"/>
<rect x="576.01" y="540.31" width="8.1" height="8.1" fill="none" stroke="#000" stroke-width="1.45"/>
<rect x="580.90" y="540.80" width="8.1" height="8.1" fill="none" stroke="#000" stroke-width="1.45"/>
<rect x="585.79" y="541.29" width="8.1" height="8.1" fill="none" stroke="#000" stroke-width="1.45"/>
<rect x="590.67" y="541.78" width="8.1" height="8.1" fill="none" stroke="#000" stroke-width="1.45"/>
<rect x="595.56" y="542.26" width="8.1" height="8.1" fill="none" stroke="#000" stroke-width="1.45"/>
<rect x="600.45" y="542.75" width="8.1" height="8.1" fill="none" stroke="#000" stroke-width="1.45"/>
<path d="M96.20 607.94L101.10 612.94L96.20 617.94L91.30 612.94Z" fill="#000"/>
<path d="M101.09 607.85L105.99 612.85L101.09 617.85L96.19 612.85Z" fill="#000"/>
<path d="M105.97 607.76L110.88 612.76L105.97 617.76L101.07 612.76Z" fill="#000"/>
<path d="M110.86 607.68L115.76 612.68L110.86 617.68L105.96 612.68Z" fill="#000"/>
<path d="M115.75 607.59L120.65 612.59L115.75 617.59L110.85 612.59Z" fill="#000"/>
<path d="M120.64 607.50L125.54 612.50L120.64 617.50L115.74 612.50Z" fill="#000"/>
<path d="M125.52 607.41L130.42 612.41L125.52 617.41L120.62 612.41Z" fill="#000"/>
<path d="M130.41 607.15L135.31 612.15L130.41 617.15L125.51 612.15Z" fill="#000"/>
<path d="M135.30 604.51L140.20 609.51L135.30 614.51L130.40 609.51Z" fill="#000"/>
<path d="M140.19 586.33L145.09 591.33L140.19 596.33L135.29 591.33Z" fill="#000"/>
<path d="M145.07 553.13L149.97 558.13L145.07 563.13L140.17 558.13Z" fill="#000"/>
<path d="M149.96 526.26L154.86 531.26L149.96 536.26L145.06 531.26Z" fill="#000"/>
<path d="M154.85 509.92L159.75 514.92L154.85 519.92L149.95 514.92Z" fill="#000"/>
<path d="M159.74 500.70L164.64 505.70L159.74 510.70L154.84 505.70Z" fill="#000"/>
<path d="M164.62 493.85L169.52 498.85L164.62 503.85L159.72 498.85Z" fill="#000"/>
<path d="M169.51 488.84L174.41 493.84L169.51 498.84L164.61 493.84Z" fill="#000"/>
<path d="M174.40 485.94L179.30 490.94L174.40 495.94L169.50 490.94Z" fill="#000"/>
<path d="M179.29 483.83L184.19 488.83L179.29 493.83L174.39 488.83Z" fill="#000"/>
<path d="M184.17 482.25L189.07 487.25L184.17 492.25L179.27 487.25Z" fill="#000"/>
<path d="M189.06 481.20L193.96 486.20L189.06 491.20L184.16 486.20Z" fill="#000"/>
<path d="M193.95 480.41L198.85 485.41L193.95 490.41L189.05 485.41Z" fill="#000"/>
<path d="M198.84 480.14L203.74 485.14L198.84 490.14L193.94 485.14Z" fill="#000"/>
<path d="M203.72 479.88L208.62 484.88L203.72 489.88L198.82 484.88Z" fill="#000"/>
<path d="M208.61 479.92L213.51 484.92L208.61 489.92L203.71 484.92Z" fill="#000"/>
<path d="M213.50 479.97L218.40 484.97L213.50 489.97L208.60 484.97Z" fill="#000"/>
<path d="M218.39 480.01L223.29 485.01L218.39 490.01L213.49 485.01Z" fill="#000"/>
<path d="M223.27 480.06L228.17 485.06L223.27 490.06L218.37 485.06Z" fill="#000"/>
<path d="M228.16 480.10L233.06 485.10L228.16 490.10L223.26 485.10Z" fill="#000"/>
<path d="M233.05 480.14L237.95 485.14L233.05 490.14L228.15 485.14Z" fill="#000"/>
<path d="M237.94 480.49L242.84 485.49L237.94 490.49L233.04 485.49Z" fill="#000"/>
<path d="M242.82 480.83L247.72 485.83L242.82 490.83L237.92 485.83Z" fill="#000"/>
<path d="M247.71 481.18L252.61 486.18L247.71 491.18L242.81 486.18Z" fill="#000"/>
<path d="M252.60 481.52L257.50 486.52L252.60 491.52L247.70 486.52Z" fill="#000"/>
<path d="M257.49 481.87L262.39 486.87L257.49 491.87L252.59 486.87Z" fill="#000"/>
<path d="M262.38 482.21L267.27 487.21L262.38 492.21L257.48 487.21Z" fill="#000"/>
<path d="M267.26 482.56L272.16 487.56L267.26 492.56L262.36 487.56Z" fill="#000"/>
<path d="M272.15 482.90L277.05 487.90L272.15 492.90L267.25 487.90Z" fill="#000"/>
<path d="M277.04 483.24L281.94 488.24L277.04 493.24L272.14 488.24Z" fill="#000"/>
<path d="M281.92 483.59L286.82 488.59L281.92 493.59L277.02 488.59Z" fill="#000"/>
<path d="M286.81 483.93L291.71 488.93L286.81 493.93L281.91 488.93Z" fill="#000"/>
<path d="M291.70 484.28L296.60 489.28L291.70 494.28L286.80 489.28Z" fill="#000"/>
<path d="M296.59 484.62L301.49 489.62L296.59 494.62L291.69 489.62Z" fill="#000"/>
<path d="M301.47 485.03L306.37 490.03L301.47 495.03L296.57 490.03Z" fill="#000"/>
<path d="M306.36 485.43L311.26 490.43L306.36 495.43L301.46 490.43Z" fill="#000"/>
<path d="M311.25 485.84L316.15 490.84L311.25 495.84L306.35 490.84Z" fill="#000"/>
<path d="M316.14 486.25L321.04 491.25L316.14 496.25L311.24 491.25Z" fill="#000"/>
<path d="M321.02 486.65L325.92 491.65L321.02 496.65L316.12 491.65Z" fill="#000"/>
<path d="M325.91 487.06L330.81 492.06L325.91 497.06L321.01 492.06Z" fill="#000"/>
<path d="M330.80 487.47L335.70 492.47L330.80 497.47L325.90 492.47Z" fill="#000"/>
<path d="M335.69 487.87L340.59 492.87L335.69 497.87L330.79 492.87Z" fill="#000"/>
<path d="M340.57 488.28L345.47 493.28L340.57 498.28L335.67 493.28Z" fill="#000"/>
<path d="M345.46 488.68L350.36 493.68L345.46 498.68L340.56 493.68Z" fill="#000"/>
<path d="M350.35 489.09L355.25 494.09L350.35 499.09L345.45 494.09Z" fill="#000"/>
<path d="M355.24 489.50L360.14 494.50L355.24 499.50L350.34 494.50Z" fill="#000"/>
<path d="M360.12 489.90L365.02 494.90L360.12 499.90L355.22 494.90Z" fill="#000"/>
<path d="M365.01 490.31L369.91 495.31L365.01 500.31L360.11 495.31Z" fill="#000"/>
<path d="M369.90 490.72L374.80 495.72L369.90 500.72L365.00 495.72Z" fill="#000"/>
<path d="M374.79 491.12L379.69 496.12L374.79 501.12L369.89 496.12Z" fill="#000"/>
<path d="M379.67 491.53L384.57 496.53L379.67 501.53L374.77 496.53Z" fill="#000"/>
<path d="M384.56 491.93L389.46 496.93L384.56 501.93L379.66 496.93Z" fill="#000"/>
<path d="M389.45 492.34L394.35 497.34L389.45 502.34L384.55 497.34Z" fill="#000"/>
<path d="M394.34 492.75L399.24 497.75L394.34 502.75L389.44 497.75Z" fill="#000"/>
<path d="M399.22 493.15L404.12 498.15L399.22 503.15L394.32 498.15Z" fill="#000"/>
<path d="M404.11 493.56L409.01 498.56L404.11 503.56L399.21 498.56Z" fill="#000"/>
<path d="M409.00 493.97L413.90 498.97L409.00 503.97L404.10 498.97Z" fill="#000"/>
<path d="M413.89 494.37L418.79 499.37L413.89 504.37L408.99 499.37Z" fill="#000"/>
<path d="M418.77 494.78L423.67 499.78L418.77 504.78L413.87 499.78Z" fill="#000"/>
<path d="M423.66 495.18L428.56 500.18L423.66 505.18L418.76 500.18Z" fill="#000"/>
<path d="M428.55 495.59L433.45 500.59L428.55 505.59L423.65 500.59Z" fill="#000"/>
<path d="M433.44 496.00L438.34 501.00L433.44 506.00L428.54 501.00Z" fill="#000"/>
<path d="M438.32 496.40L443.22 501.40L438.32 506.40L433.43 501.40Z" fill="#000"/>
<path d="M443.21 496.81L448.11 501.81L443.21 506.81L438.31 501.81Z" fill="#000"/>
<path d="M448.10 497.22L453.00 502.22L448.10 507.22L443.20 502.22Z" fill="#000"/>
<path d="M452.99 497.62L457.89 502.62L452.99 507.62L448.09 502.62Z" fill="#000"/>
<path d="M457.87 498.03L462.77 503.03L457.87 508.03L452.97 503.03Z" fill="#000"/>
<path d="M462.76 498.43L467.66 503.43L462.76 508.43L457.86 503.43Z" fill="#000"/>
<path d="M467.65 498.84L472.55 503.84L467.65 508.84L462.75 503.84Z" fill="#000"/>
<path d="M472.54 499.25L477.44 504.25L472.54 509.25L467.64 504.25Z" fill="#000"/>
<path d="M477.42 499.66L482.32 504.66L477.42 509.66L472.52 504.66Z" fill="#000"/>
<path d="M482.31 500.08L487.21 505.08L482.31 510.08L477.41 505.08Z" fill="#000"/>
<path d="M487.20 500.49L492.10 505.49L487.20 510.49L482.30 505.49Z" fill="#000"/>
<path d="M492.09 500.91L496.99 505.91L492.09 510.91L487.19 505.91Z" fill="#000"/>
<path d="M496.97 501.32L501.87 506.32L496.97 511.32L492.07 506.32Z" fill="#000"/>
<path d="M501.86 501.74L506.76 506.74L501.86 511.74L496.96 506.74Z" fill="#000"/>
<path d="M506.75 502.15L511.65 507.15L506.75 512.15L501.85 507.15Z" fill="#000"/>
<path d="M511.64 502.56L516.54 507.56L511.64 512.56L506.74 507.56Z" fill="#000"/>
<path d="M516.52 502.98L521.42 507.98L516.52 512.98L511.62 507.98Z" fill="#000"/>
<path d="M521.41 503.39L526.31 508.39L521.41 513.39L516.51 508.39Z" fill="#000"/>
<path d="M526.30 503.81L531.20 508.81L526.30 513.81L521.40 508.81Z" fill="#000"/>
<path d="M531.19 504.22L536.09 509.22L531.19 514.22L526.29 509.22Z" fill="#000"/>
<path d="M536.07 504.64L540.97 509.64L536.07 514.64L531.17 509.64Z" fill="#000"/>
<path d="M540.96 505.05L545.86 510.05L540.96 515.05L536.06 510.05Z" fill="#000"/>
<path d="M545.85 505.47L550.75 510.47L545.85 515.47L540.95 510.47Z" fill="#000"/>
<path d="M550.74 505.88L555.64 510.88L550.74 515.88L545.84 510.88Z" fill="#000"/>
<path d="M555.62 506.30L560.52 511.30L555.62 516.30L550.73 511.30Z" fill="#000"/>
<path d="M560.51 506.71L565.41 511.71L560.51 516.71L555.61 511.71Z" fill="#000"/>
<path d="M565.40 507.13L570.30 512.13L565.40 517.13L560.50 512.13Z" fill="#000"/>
<path d="M570.29 507.54L575.19 512.54L570.29 517.54L565.39 512.54Z" fill="#000"/>
<path d="M575.17 507.96L580.07 512.96L575.17 517.96L570.27 512.96Z" fill="#000"/>
<path d="M580.06 508.37L584.96 513.37L580.06 518.37L575.16 513.37Z" fill="#000"/>
<path d="M584.95 508.79L589.85 513.79L584.95 518.79L580.05 513.79Z" fill="#000"/>
<path d="M589.84 509.20L594.74 514.20L589.84 519.20L584.94 514.20Z" fill="#000"/>
<path d="M594.72 509.62L599.62 514.62L594.72 519.62L589.82 514.62Z" fill="#000"/>
<path d="M599.61 510.03L604.51 515.03L599.61 520.03L594.71 515.03Z" fill="#000"/>
<path d="M604.50 510.45L609.40 515.45L604.50 520.45L599.60 515.45Z" fill="#000"/>
<text transform="translate(79.30,697.20) scale(1.1000,1)" text-anchor="end" font-size="17.5" stroke="#000" stroke-width="0.6" >0</text>
<text transform="translate(79.30,670.85) scale(1.1000,1)" text-anchor="end" font-size="17.5" stroke="#000" stroke-width="0.6" >0.1</text>
<g transform="translate(79.30,670.85) scale(1.1000,1)" fill="#fff"><rect x="-9.55" y="-2.46" width="3.87" height="4.16"/><rect x="-3.44" y="-2.46" width="3.73" height="4.16"/></g>
<text transform="translate(79.30,644.50) scale(1.1000,1)" text-anchor="end" font-size="17.5" stroke="#000" stroke-width="0.6" >0.2</text>
<text transform="translate(79.30,618.15) scale(1.1000,1)" text-anchor="end" font-size="17.5" stroke="#000" stroke-width="0.6" >0.3</text>
<text transform="translate(79.30,591.80) scale(1.1000,1)" text-anchor="end" font-size="17.5" stroke="#000" stroke-width="0.6" >0.4</text>
<text transform="translate(79.30,565.45) scale(1.1000,1)" text-anchor="end" font-size="17.5" stroke="#000" stroke-width="0.6" >0.5</text>
<text transform="translate(79.30,539.10) scale(1.1000,1)" text-anchor="end" font-size="17.5" stroke="#000" stroke-width="0.6" >0.6</text>
<text transform="translate(79.30,512.75) scale(1.1000,1)" text-anchor="end" font-size="17.5" stroke="#000" stroke-width="0.6" >0.7</text>
<text transform="translate(79.30,486.40) scale(1.1000,1)" text-anchor="end" font-size="17.5" stroke="#000" stroke-width="0.6" >0.8</text>
<text transform="translate(79.30,460.05) scale(1.1000,1)" text-anchor="end" font-size="17.5" stroke="#000" stroke-width="0.6" >0.9</text>
<text transform="translate(79.30,433.70) scale(1.1000,1)" text-anchor="end" font-size="17.5" stroke="#000" stroke-width="0.6" >1</text>
<g transform="translate(79.30,433.70) scale(1.1000,1)" fill="#fff"><rect x="-9.55" y="-2.46" width="3.87" height="4.16"/><rect x="-3.44" y="-2.46" width="3.73" height="4.16"/></g>
<text transform="translate(91.10,719.80) scale(1.1111,1)" font-size="18.0" stroke="#000" stroke-width="0.6" fill="#000">0</text>
<text transform="translate(207.15,719.80) scale(1.0511,1)" font-size="18.0" stroke="#000" stroke-width="0.6" fill="#000">200</text>
<text transform="translate(333.83,719.80) scale(1.0347,1)" font-size="18.0" stroke="#000" stroke-width="0.6" fill="#000">400</text>
<text transform="translate(461.67,719.80) scale(1.0335,1)" font-size="18.0" stroke="#000" stroke-width="0.6" fill="#000">600</text>
<text transform="translate(589.07,719.80) scale(1.0197,1)" font-size="18.0" stroke="#000" stroke-width="0.6" fill="#000">800</text>
<text transform="translate(302.61,743.60) scale(1.0630,1)" font-size="17.6" stroke="#000" stroke-width="0.55" fill="#000">Time (mins)</text>
<text transform="translate(28.80,687.81) rotate(-90) scale(1.0028,1)" font-size="21.6" stroke="#000" stroke-width="0.5" >Absorbance (234 - 650 nm)</text>
<text transform="translate(121.99,477.30) scale(1.0700,1)" font-size="30.5" stroke="#000" stroke-width="0.7" fill="#000">(a)</text>
</g>
<g id="pb2">
<circle cx="211.20" cy="792.60" r="3.9" fill="none" stroke="#000" stroke-width="1.5"/>
<text transform="translate(220.50,799.20) scale(1.0651,1)" font-size="18" font-weight="bold" fill="#000">F25</text>
<rect x="348.20" y="788.80" width="7.4" height="7.4" fill="none" stroke="#000" stroke-width="1.4"/>
<text transform="translate(360.45,799.20) scale(1.1132,1)" font-size="18" font-weight="bold" fill="#000">F41</text>
<g transform="translate(360.45,799.20) scale(1.1132,1)" fill="#fff"><rect x="21.29" y="-2.69" width="3.87" height="4.39"/><rect x="27.73" y="-2.69" width="3.64" height="4.39"/></g>
<path d="M491.75 787.60L496.75 792.60L491.75 797.60L486.75 792.60Z" fill="#000"/>
<text transform="translate(500.47,799.20) scale(1.0907,1)" font-size="18" font-weight="bold" fill="#000">F45</text>
<rect x="115.2" y="823.0" width="499.50000000000006" height="270.29999999999995" fill="none" stroke="#000" stroke-width="2.0"/>
<line x1="109.20" y1="1093.30" x2="121.00" y2="1093.30" stroke="#000" stroke-width="1.7" stroke-linecap="butt"/>
<line x1="110.20" y1="1087.89" x2="115.20" y2="1087.89" stroke="#000" stroke-width="1.6" stroke-linecap="butt"/>
<line x1="110.20" y1="1082.49" x2="115.20" y2="1082.49" stroke="#000" stroke-width="1.6" stroke-linecap="butt"/>
<line x1="110.20" y1="1077.08" x2="115.20" y2="1077.08" stroke="#000" stroke-width="1.6" stroke-linecap="butt"/>
<line x1="110.20" y1="1071.68" x2="115.20" y2="1071.68" stroke="#000" stroke-width="1.6" stroke-linecap="butt"/>
<line x1="109.20" y1="1066.27" x2="121.00" y2="1066.27" stroke="#000" stroke-width="1.7" stroke-linecap="butt"/>
<line x1="110.20" y1="1060.86" x2="115.20" y2="1060.86" stroke="#000" stroke-width="1.6" stroke-linecap="butt"/>
<line x1="110.20" y1="1055.46" x2="115.20" y2="1055.46" stroke="#000" stroke-width="1.6" stroke-linecap="butt"/>
<line x1="110.20" y1="1050.05" x2="115.20" y2="1050.05" stroke="#000" stroke-width="1.6" stroke-linecap="butt"/>
<line x1="110.20" y1="1044.65" x2="115.20" y2="1044.65" stroke="#000" stroke-width="1.6" stroke-linecap="butt"/>
<line x1="109.20" y1="1039.24" x2="121.00" y2="1039.24" stroke="#000" stroke-width="1.7" stroke-linecap="butt"/>
<line x1="110.20" y1="1033.83" x2="115.20" y2="1033.83" stroke="#000" stroke-width="1.6" stroke-linecap="butt"/>
<line x1="110.20" y1="1028.43" x2="115.20" y2="1028.43" stroke="#000" stroke-width="1.6" stroke-linecap="butt"/>
<line x1="110.20" y1="1023.02" x2="115.20" y2="1023.02" stroke="#000" stroke-width="1.6" stroke-linecap="butt"/>
<line x1="110.20" y1="1017.62" x2="115.20" y2="1017.62" stroke="#000" stroke-width="1.6" stroke-linecap="butt"/>
<line x1="109.20" y1="1012.21" x2="121.00" y2="1012.21" stroke="#000" stroke-width="1.7" stroke-linecap="butt"/>
<line x1="110.20" y1="1006.80" x2="115.20" y2="1006.80" stroke="#000" stroke-width="1.6" stroke-linecap="butt"/>
<line x1="110.20" y1="1001.40" x2="115.20" y2="1001.40" stroke="#000" stroke-width="1.6" stroke-linecap="butt"/>
<line x1="110.20" y1="995.99" x2="115.20" y2="995.99" stroke="#000" stroke-width="1.6" stroke-linecap="butt"/>
<line x1="110.20" y1="990.59" x2="115.20" y2="990.59" stroke="#000" stroke-width="1.6" stroke-linecap="butt"/>
<line x1="109.20" y1="985.18" x2="121.00" y2="985.18" stroke="#000" stroke-width="1.7" stroke-linecap="butt"/>
<line x1="110.20" y1="979.77" x2="115.20" y2="979.77" stroke="#000" stroke-width="1.6" stroke-linecap="butt"/>
<line x1="110.20" y1="974.37" x2="115.20" y2="974.37" stroke="#000" stroke-width="1.6" stroke-linecap="butt"/>
<line x1="110.20" y1="968.96" x2="115.20" y2="968.96" stroke="#000" stroke-width="1.6" stroke-linecap="butt"/>
<line x1="110.20" y1="963.56" x2="115.20" y2="963.56" stroke="#000" stroke-width="1.6" stroke-linecap="butt"/>
<line x1="109.20" y1="958.15" x2="121.00" y2="958.15" stroke="#000" stroke-width="1.7" stroke-linecap="butt"/>
<line x1="110.20" y1="952.74" x2="115.20" y2="952.74" stroke="#000" stroke-width="1.6" stroke-linecap="butt"/>
<line x1="110.20" y1="947.34" x2="115.20" y2="947.34" stroke="#000" stroke-width="1.6" stroke-linecap="butt"/>
<line x1="110.20" y1="941.93" x2="115.20" y2="941.93" stroke="#000" stroke-width="1.6" stroke-linecap="butt"/>
<line x1="110.20" y1="936.53" x2="115.20" y2="936.53" stroke="#000" stroke-width="1.6" stroke-linecap="butt"/>
<line x1="109.20" y1="931.12" x2="121.00" y2="931.12" stroke="#000" stroke-width="1.7" stroke-linecap="butt"/>
<line x1="110.20" y1="925.71" x2="115.20" y2="925.71" stroke="#000" stroke-width="1.6" stroke-linecap="butt"/>
<line x1="110.20" y1="920.31" x2="115.20" y2="920.31" stroke="#000" stroke-width="1.6" stroke-linecap="butt"/>
<line x1="110.20" y1="914.90" x2="115.20" y2="914.90" stroke="#000" stroke-width="1.6" stroke-linecap="butt"/>
<line x1="110.20" y1="909.50" x2="115.20" y2="909.50" stroke="#000" stroke-width="1.6" stroke-linecap="butt"/>
<line x1="109.20" y1="904.09" x2="121.00" y2="904.09" stroke="#000" stroke-width="1.7" stroke-linecap="butt"/>
<line x1="110.20" y1="898.68" x2="115.20" y2="898.68" stroke="#000" stroke-width="1.6" stroke-linecap="butt"/>
<line x1="110.20" y1="893.28" x2="115.20" y2="893.28" stroke="#000" stroke-width="1.6" stroke-linecap="butt"/>
<line x1="110.20" y1="887.87" x2="115.20" y2="887.87" stroke="#000" stroke-width="1.6" stroke-linecap="butt"/>
<line x1="110.20" y1="882.47" x2="115.20" y2="882.47" stroke="#000" stroke-width="1.6" stroke-linecap="butt"/>
<line x1="109.20" y1="877.06" x2="121.00" y2="877.06" stroke="#000" stroke-width="1.7" stroke-linecap="butt"/>
<line x1="110.20" y1="871.65" x2="115.20" y2="871.65" stroke="#000" stroke-width="1.6" stroke-linecap="butt"/>
<line x1="110.20" y1="866.25" x2="115.20" y2="866.25" stroke="#000" stroke-width="1.6" stroke-linecap="butt"/>
<line x1="110.20" y1="860.84" x2="115.20" y2="860.84" stroke="#000" stroke-width="1.6" stroke-linecap="butt"/>
<line x1="110.20" y1="855.44" x2="115.20" y2="855.44" stroke="#000" stroke-width="1.6" stroke-linecap="butt"/>
<line x1="109.20" y1="850.03" x2="121.00" y2="850.03" stroke="#000" stroke-width="1.7" stroke-linecap="butt"/>
<line x1="110.20" y1="844.62" x2="115.20" y2="844.62" stroke="#000" stroke-width="1.6" stroke-linecap="butt"/>
<line x1="110.20" y1="839.22" x2="115.20" y2="839.22" stroke="#000" stroke-width="1.6" stroke-linecap="butt"/>
<line x1="110.20" y1="833.81" x2="115.20" y2="833.81" stroke="#000" stroke-width="1.6" stroke-linecap="butt"/>
<line x1="110.20" y1="828.41" x2="115.20" y2="828.41" stroke="#000" stroke-width="1.6" stroke-linecap="butt"/>
<line x1="109.20" y1="823.00" x2="121.00" y2="823.00" stroke="#000" stroke-width="1.7" stroke-linecap="butt"/>
<line x1="115.20" y1="1088.00" x2="115.20" y2="1100.00" stroke="#000" stroke-width="1.5" stroke-linecap="butt"/>
<line x1="140.18" y1="1093.30" x2="140.18" y2="1098.20" stroke="#000" stroke-width="1.4" stroke-linecap="butt"/>
<line x1="165.15" y1="1093.30" x2="165.15" y2="1098.20" stroke="#000" stroke-width="1.4" stroke-linecap="butt"/>
<line x1="190.12" y1="1093.30" x2="190.12" y2="1098.20" stroke="#000" stroke-width="1.4" stroke-linecap="butt"/>
<line x1="215.10" y1="1093.30" x2="215.10" y2="1098.20" stroke="#000" stroke-width="1.4" stroke-linecap="butt"/>
<line x1="240.08" y1="1088.00" x2="240.08" y2="1100.00" stroke="#000" stroke-width="1.5" stroke-linecap="butt"/>
<line x1="265.05" y1="1093.30" x2="265.05" y2="1098.20" stroke="#000" stroke-width="1.4" stroke-linecap="butt"/>
<line x1="290.03" y1="1093.30" x2="290.03" y2="1098.20" stroke="#000" stroke-width="1.4" stroke-linecap="butt"/>
<line x1="315.00" y1="1093.30" x2="315.00" y2="1098.20" stroke="#000" stroke-width="1.4" stroke-linecap="butt"/>
<line x1="339.98" y1="1093.30" x2="339.98" y2="1098.20" stroke="#000" stroke-width="1.4" stroke-linecap="butt"/>
<line x1="364.95" y1="1088.00" x2="364.95" y2="1100.00" stroke="#000" stroke-width="1.5" stroke-linecap="butt"/>
<line x1="389.93" y1="1093.30" x2="389.93" y2="1098.20" stroke="#000" stroke-width="1.4" stroke-linecap="butt"/>
<line x1="414.90" y1="1093.30" x2="414.90" y2="1098.20" stroke="#000" stroke-width="1.4" stroke-linecap="butt"/>
<line x1="439.88" y1="1093.30" x2="439.88" y2="1098.20" stroke="#000" stroke-width="1.4" stroke-linecap="butt"/>
<line x1="464.85" y1="1093.30" x2="464.85" y2="1098.20" stroke="#000" stroke-width="1.4" stroke-linecap="butt"/>
<line x1="489.83" y1="1088.00" x2="489.83" y2="1100.00" stroke="#000" stroke-width="1.5" stroke-linecap="butt"/>
<line x1="514.80" y1="1093.30" x2="514.80" y2="1098.20" stroke="#000" stroke-width="1.4" stroke-linecap="butt"/>
<line x1="539.78" y1="1093.30" x2="539.78" y2="1098.20" stroke="#000" stroke-width="1.4" stroke-linecap="butt"/>
<line x1="564.75" y1="1093.30" x2="564.75" y2="1098.20" stroke="#000" stroke-width="1.4" stroke-linecap="butt"/>
<line x1="589.73" y1="1093.30" x2="589.73" y2="1098.20" stroke="#000" stroke-width="1.4" stroke-linecap="butt"/>
<line x1="614.70" y1="1088.00" x2="614.70" y2="1100.00" stroke="#000" stroke-width="1.5" stroke-linecap="butt"/>
<circle cx="114.80" cy="1014.37" r="3.75" fill="none" stroke="#000" stroke-width="1.6"/>
<circle cx="119.61" cy="1015.45" r="3.75" fill="none" stroke="#000" stroke-width="1.6"/>
<circle cx="124.41" cy="1015.39" r="3.75" fill="none" stroke="#000" stroke-width="1.6"/>
<circle cx="129.22" cy="1015.33" r="3.75" fill="none" stroke="#000" stroke-width="1.6"/>
<circle cx="134.03" cy="1015.27" r="3.75" fill="none" stroke="#000" stroke-width="1.6"/>
<circle cx="138.83" cy="1015.21" r="3.75" fill="none" stroke="#000" stroke-width="1.6"/>
<circle cx="143.64" cy="1015.15" r="3.75" fill="none" stroke="#000" stroke-width="1.6"/>
<circle cx="148.45" cy="1015.09" r="3.75" fill="none" stroke="#000" stroke-width="1.6"/>
<circle cx="153.25" cy="1015.03" r="3.75" fill="none" stroke="#000" stroke-width="1.6"/>
<circle cx="158.06" cy="1014.97" r="3.75" fill="none" stroke="#000" stroke-width="1.6"/>
<circle cx="162.87" cy="1014.91" r="3.75" fill="none" stroke="#000" stroke-width="1.6"/>
<circle cx="167.67" cy="1014.80" r="3.75" fill="none" stroke="#000" stroke-width="1.6"/>
<circle cx="172.48" cy="1014.70" r="3.75" fill="none" stroke="#000" stroke-width="1.6"/>
<circle cx="177.29" cy="1014.59" r="3.75" fill="none" stroke="#000" stroke-width="1.6"/>
<circle cx="182.09" cy="1014.48" r="3.75" fill="none" stroke="#000" stroke-width="1.6"/>
<circle cx="186.90" cy="1014.37" r="3.75" fill="none" stroke="#000" stroke-width="1.6"/>
<circle cx="191.71" cy="1014.26" r="3.75" fill="none" stroke="#000" stroke-width="1.6"/>
<circle cx="196.51" cy="1014.16" r="3.75" fill="none" stroke="#000" stroke-width="1.6"/>
<circle cx="201.32" cy="1014.05" r="3.75" fill="none" stroke="#000" stroke-width="1.6"/>
<circle cx="206.13" cy="1013.94" r="3.75" fill="none" stroke="#000" stroke-width="1.6"/>
<circle cx="210.93" cy="1013.83" r="3.75" fill="none" stroke="#000" stroke-width="1.6"/>
<circle cx="215.74" cy="1013.75" r="3.75" fill="none" stroke="#000" stroke-width="1.6"/>
<circle cx="220.55" cy="1013.67" r="3.75" fill="none" stroke="#000" stroke-width="1.6"/>
<circle cx="225.35" cy="1013.59" r="3.75" fill="none" stroke="#000" stroke-width="1.6"/>
<circle cx="230.16" cy="1013.51" r="3.75" fill="none" stroke="#000" stroke-width="1.6"/>
<circle cx="234.97" cy="1013.43" r="3.75" fill="none" stroke="#000" stroke-width="1.6"/>
<circle cx="239.78" cy="1013.35" r="3.75" fill="none" stroke="#000" stroke-width="1.6"/>
<circle cx="244.58" cy="1013.26" r="3.75" fill="none" stroke="#000" stroke-width="1.6"/>
<circle cx="249.39" cy="1013.18" r="3.75" fill="none" stroke="#000" stroke-width="1.6"/>
<circle cx="254.20" cy="1013.10" r="3.75" fill="none" stroke="#000" stroke-width="1.6"/>
<circle cx="259.00" cy="1013.02" r="3.75" fill="none" stroke="#000" stroke-width="1.6"/>
<circle cx="263.81" cy="1012.89" r="3.75" fill="none" stroke="#000" stroke-width="1.6"/>
<circle cx="268.62" cy="1012.75" r="3.75" fill="none" stroke="#000" stroke-width="1.6"/>
<circle cx="273.42" cy="1011.67" r="3.75" fill="none" stroke="#000" stroke-width="1.6"/>
<circle cx="278.23" cy="1008.56" r="3.75" fill="none" stroke="#000" stroke-width="1.6"/>
<circle cx="283.04" cy="1003.56" r="3.75" fill="none" stroke="#000" stroke-width="1.6"/>
<circle cx="287.84" cy="992.78" r="3.75" fill="none" stroke="#000" stroke-width="1.6"/>
<circle cx="292.65" cy="981.02" r="3.75" fill="none" stroke="#000" stroke-width="1.6"/>
<circle cx="297.46" cy="968.50" r="3.75" fill="none" stroke="#000" stroke-width="1.6"/>
<circle cx="302.26" cy="953.50" r="3.75" fill="none" stroke="#000" stroke-width="1.6"/>
<circle cx="307.07" cy="940.47" r="3.75" fill="none" stroke="#000" stroke-width="1.6"/>
<circle cx="311.88" cy="929.71" r="3.75" fill="none" stroke="#000" stroke-width="1.6"/>
<circle cx="316.68" cy="921.71" r="3.75" fill="none" stroke="#000" stroke-width="1.6"/>
<circle cx="321.49" cy="914.71" r="3.75" fill="none" stroke="#000" stroke-width="1.6"/>
<circle cx="326.30" cy="908.96" r="3.75" fill="none" stroke="#000" stroke-width="1.6"/>
<circle cx="331.10" cy="904.20" r="3.75" fill="none" stroke="#000" stroke-width="1.6"/>
<circle cx="335.91" cy="900.20" r="3.75" fill="none" stroke="#000" stroke-width="1.6"/>
<circle cx="340.72" cy="896.68" r="3.75" fill="none" stroke="#000" stroke-width="1.6"/>
<circle cx="345.52" cy="893.93" r="3.75" fill="none" stroke="#000" stroke-width="1.6"/>
<circle cx="350.33" cy="890.93" r="3.75" fill="none" stroke="#000" stroke-width="1.6"/>
<circle cx="355.14" cy="889.49" r="3.75" fill="none" stroke="#000" stroke-width="1.6"/>
<circle cx="359.94" cy="887.87" r="3.75" fill="none" stroke="#000" stroke-width="1.6"/>
<circle cx="364.75" cy="886.52" r="3.75" fill="none" stroke="#000" stroke-width="1.6"/>
<circle cx="369.56" cy="885.44" r="3.75" fill="none" stroke="#000" stroke-width="1.6"/>
<circle cx="374.36" cy="884.63" r="3.75" fill="none" stroke="#000" stroke-width="1.6"/>
<circle cx="379.17" cy="883.95" r="3.75" fill="none" stroke="#000" stroke-width="1.6"/>
<circle cx="383.98" cy="883.49" r="3.75" fill="none" stroke="#000" stroke-width="1.6"/>
<circle cx="388.78" cy="883.33" r="3.75" fill="none" stroke="#000" stroke-width="1.6"/>
<circle cx="393.59" cy="883.17" r="3.75" fill="none" stroke="#000" stroke-width="1.6"/>
<circle cx="398.40" cy="883.01" r="3.75" fill="none" stroke="#000" stroke-width="1.6"/>
<circle cx="403.20" cy="883.28" r="3.75" fill="none" stroke="#000" stroke-width="1.6"/>
<circle cx="408.01" cy="883.55" r="3.75" fill="none" stroke="#000" stroke-width="1.6"/>
<circle cx="412.82" cy="883.82" r="3.75" fill="none" stroke="#000" stroke-width="1.6"/>
<circle cx="417.62" cy="884.29" r="3.75" fill="none" stroke="#000" stroke-width="1.6"/>
<circle cx="422.43" cy="884.76" r="3.75" fill="none" stroke="#000" stroke-width="1.6"/>
<circle cx="427.24" cy="885.24" r="3.75" fill="none" stroke="#000" stroke-width="1.6"/>
<circle cx="432.04" cy="885.71" r="3.75" fill="none" stroke="#000" stroke-width="1.6"/>
<circle cx="436.85" cy="886.36" r="3.75" fill="none" stroke="#000" stroke-width="1.6"/>
<circle cx="441.66" cy="887.01" r="3.75" fill="none" stroke="#000" stroke-width="1.6"/>
<circle cx="446.46" cy="887.66" r="3.75" fill="none" stroke="#000" stroke-width="1.6"/>
<circle cx="451.27" cy="888.30" r="3.75" fill="none" stroke="#000" stroke-width="1.6"/>
<circle cx="456.08" cy="888.95" r="3.75" fill="none" stroke="#000" stroke-width="1.6"/>
<circle cx="460.88" cy="889.60" r="3.75" fill="none" stroke="#000" stroke-width="1.6"/>
<circle cx="465.69" cy="890.25" r="3.75" fill="none" stroke="#000" stroke-width="1.6"/>
<circle cx="470.50" cy="890.90" r="3.75" fill="none" stroke="#000" stroke-width="1.6"/>
<circle cx="475.30" cy="891.55" r="3.75" fill="none" stroke="#000" stroke-width="1.6"/>
<circle cx="480.11" cy="892.20" r="3.75" fill="none" stroke="#000" stroke-width="1.6"/>
<circle cx="484.92" cy="892.94" r="3.75" fill="none" stroke="#000" stroke-width="1.6"/>
<circle cx="489.73" cy="893.68" r="3.75" fill="none" stroke="#000" stroke-width="1.6"/>
<circle cx="494.53" cy="894.43" r="3.75" fill="none" stroke="#000" stroke-width="1.6"/>
<circle cx="499.34" cy="895.17" r="3.75" fill="none" stroke="#000" stroke-width="1.6"/>
<circle cx="504.15" cy="895.91" r="3.75" fill="none" stroke="#000" stroke-width="1.6"/>
<circle cx="508.95" cy="896.66" r="3.75" fill="none" stroke="#000" stroke-width="1.6"/>
<circle cx="513.76" cy="897.40" r="3.75" fill="none" stroke="#000" stroke-width="1.6"/>
<circle cx="518.57" cy="898.14" r="3.75" fill="none" stroke="#000" stroke-width="1.6"/>
<circle cx="523.37" cy="898.84" r="3.75" fill="none" stroke="#000" stroke-width="1.6"/>
<circle cx="528.18" cy="899.54" r="3.75" fill="none" stroke="#000" stroke-width="1.6"/>
<circle cx="532.99" cy="900.23" r="3.75" fill="none" stroke="#000" stroke-width="1.6"/>
<circle cx="537.79" cy="900.93" r="3.75" fill="none" stroke="#000" stroke-width="1.6"/>
<circle cx="542.60" cy="901.70" r="3.75" fill="none" stroke="#000" stroke-width="1.6"/>
<circle cx="547.41" cy="902.47" r="3.75" fill="none" stroke="#000" stroke-width="1.6"/>
<circle cx="552.21" cy="903.24" r="3.75" fill="none" stroke="#000" stroke-width="1.6"/>
<circle cx="557.02" cy="904.02" r="3.75" fill="none" stroke="#000" stroke-width="1.6"/>
<circle cx="561.83" cy="904.79" r="3.75" fill="none" stroke="#000" stroke-width="1.6"/>
<circle cx="566.63" cy="905.56" r="3.75" fill="none" stroke="#000" stroke-width="1.6"/>
<circle cx="571.44" cy="906.33" r="3.75" fill="none" stroke="#000" stroke-width="1.6"/>
<circle cx="576.25" cy="907.10" r="3.75" fill="none" stroke="#000" stroke-width="1.6"/>
<circle cx="581.05" cy="907.88" r="3.75" fill="none" stroke="#000" stroke-width="1.6"/>
<circle cx="585.86" cy="908.65" r="3.75" fill="none" stroke="#000" stroke-width="1.6"/>
<circle cx="590.67" cy="909.42" r="3.75" fill="none" stroke="#000" stroke-width="1.6"/>
<circle cx="595.47" cy="910.19" r="3.75" fill="none" stroke="#000" stroke-width="1.6"/>
<circle cx="600.28" cy="910.96" r="3.75" fill="none" stroke="#000" stroke-width="1.6"/>
<circle cx="605.09" cy="911.74" r="3.75" fill="none" stroke="#000" stroke-width="1.6"/>
<circle cx="609.89" cy="912.51" r="3.75" fill="none" stroke="#000" stroke-width="1.6"/>
<circle cx="614.70" cy="913.28" r="3.75" fill="none" stroke="#000" stroke-width="1.6"/>
<rect x="110.75" y="991.40" width="8.1" height="8.1" fill="none" stroke="#000" stroke-width="1.45"/>
<rect x="115.56" y="994.10" width="8.1" height="8.1" fill="none" stroke="#000" stroke-width="1.45"/>
<rect x="120.36" y="994.10" width="8.1" height="8.1" fill="none" stroke="#000" stroke-width="1.45"/>
<rect x="125.17" y="994.04" width="8.1" height="8.1" fill="none" stroke="#000" stroke-width="1.45"/>
<rect x="129.98" y="993.97" width="8.1" height="8.1" fill="none" stroke="#000" stroke-width="1.45"/>
<rect x="134.78" y="993.90" width="8.1" height="8.1" fill="none" stroke="#000" stroke-width="1.45"/>
<rect x="139.59" y="993.83" width="8.1" height="8.1" fill="none" stroke="#000" stroke-width="1.45"/>
<rect x="144.40" y="993.77" width="8.1" height="8.1" fill="none" stroke="#000" stroke-width="1.45"/>
<rect x="149.20" y="993.70" width="8.1" height="8.1" fill="none" stroke="#000" stroke-width="1.45"/>
<rect x="154.01" y="993.63" width="8.1" height="8.1" fill="none" stroke="#000" stroke-width="1.45"/>
<rect x="158.82" y="993.56" width="8.1" height="8.1" fill="none" stroke="#000" stroke-width="1.45"/>
<rect x="163.62" y="993.36" width="8.1" height="8.1" fill="none" stroke="#000" stroke-width="1.45"/>
<rect x="168.43" y="993.16" width="8.1" height="8.1" fill="none" stroke="#000" stroke-width="1.45"/>
<rect x="173.24" y="992.96" width="8.1" height="8.1" fill="none" stroke="#000" stroke-width="1.45"/>
<rect x="178.04" y="992.75" width="8.1" height="8.1" fill="none" stroke="#000" stroke-width="1.45"/>
<rect x="182.85" y="992.28" width="8.1" height="8.1" fill="none" stroke="#000" stroke-width="1.45"/>
<rect x="187.66" y="991.81" width="8.1" height="8.1" fill="none" stroke="#000" stroke-width="1.45"/>
<rect x="192.46" y="991.33" width="8.1" height="8.1" fill="none" stroke="#000" stroke-width="1.45"/>
<rect x="197.27" y="990.86" width="8.1" height="8.1" fill="none" stroke="#000" stroke-width="1.45"/>
<rect x="202.08" y="990.10" width="8.1" height="8.1" fill="none" stroke="#000" stroke-width="1.45"/>
<rect x="206.88" y="989.35" width="8.1" height="8.1" fill="none" stroke="#000" stroke-width="1.45"/>
<rect x="211.69" y="988.59" width="8.1" height="8.1" fill="none" stroke="#000" stroke-width="1.45"/>
<rect x="216.50" y="987.83" width="8.1" height="8.1" fill="none" stroke="#000" stroke-width="1.45"/>
<rect x="221.30" y="987.08" width="8.1" height="8.1" fill="none" stroke="#000" stroke-width="1.45"/>
<rect x="226.11" y="986.00" width="8.1" height="8.1" fill="none" stroke="#000" stroke-width="1.45"/>
<rect x="230.92" y="984.91" width="8.1" height="8.1" fill="none" stroke="#000" stroke-width="1.45"/>
<rect x="235.72" y="983.83" width="8.1" height="8.1" fill="none" stroke="#000" stroke-width="1.45"/>
<rect x="240.53" y="982.48" width="8.1" height="8.1" fill="none" stroke="#000" stroke-width="1.45"/>
<rect x="245.34" y="981.24" width="8.1" height="8.1" fill="none" stroke="#000" stroke-width="1.45"/>
<rect x="250.15" y="980.05" width="8.1" height="8.1" fill="none" stroke="#000" stroke-width="1.45"/>
<rect x="254.95" y="978.24" width="8.1" height="8.1" fill="none" stroke="#000" stroke-width="1.45"/>
<rect x="259.76" y="975.72" width="8.1" height="8.1" fill="none" stroke="#000" stroke-width="1.45"/>
<rect x="264.57" y="968.70" width="8.1" height="8.1" fill="none" stroke="#000" stroke-width="1.45"/>
<rect x="269.37" y="956.97" width="8.1" height="8.1" fill="none" stroke="#000" stroke-width="1.45"/>
<rect x="274.18" y="943.69" width="8.1" height="8.1" fill="none" stroke="#000" stroke-width="1.45"/>
<rect x="278.99" y="927.42" width="8.1" height="8.1" fill="none" stroke="#000" stroke-width="1.45"/>
<rect x="283.79" y="913.15" width="8.1" height="8.1" fill="none" stroke="#000" stroke-width="1.45"/>
<rect x="288.60" y="898.69" width="8.1" height="8.1" fill="none" stroke="#000" stroke-width="1.45"/>
<rect x="293.41" y="888.15" width="8.1" height="8.1" fill="none" stroke="#000" stroke-width="1.45"/>
<rect x="298.21" y="879.36" width="8.1" height="8.1" fill="none" stroke="#000" stroke-width="1.45"/>
<rect x="303.02" y="871.93" width="8.1" height="8.1" fill="none" stroke="#000" stroke-width="1.45"/>
<rect x="307.83" y="866.85" width="8.1" height="8.1" fill="none" stroke="#000" stroke-width="1.45"/>
<rect x="312.63" y="861.93" width="8.1" height="8.1" fill="none" stroke="#000" stroke-width="1.45"/>
<rect x="317.44" y="856.85" width="8.1" height="8.1" fill="none" stroke="#000" stroke-width="1.45"/>
<rect x="322.25" y="853.55" width="8.1" height="8.1" fill="none" stroke="#000" stroke-width="1.45"/>
<rect x="327.05" y="850.58" width="8.1" height="8.1" fill="none" stroke="#000" stroke-width="1.45"/>
<rect x="331.86" y="847.60" width="8.1" height="8.1" fill="none" stroke="#000" stroke-width="1.45"/>
<rect x="336.67" y="845.09" width="8.1" height="8.1" fill="none" stroke="#000" stroke-width="1.45"/>
<rect x="341.47" y="842.57" width="8.1" height="8.1" fill="none" stroke="#000" stroke-width="1.45"/>
<rect x="346.28" y="840.57" width="8.1" height="8.1" fill="none" stroke="#000" stroke-width="1.45"/>
<rect x="351.09" y="838.57" width="8.1" height="8.1" fill="none" stroke="#000" stroke-width="1.45"/>
<rect x="355.89" y="836.79" width="8.1" height="8.1" fill="none" stroke="#000" stroke-width="1.45"/>
<rect x="360.70" y="835.57" width="8.1" height="8.1" fill="none" stroke="#000" stroke-width="1.45"/>
<rect x="365.51" y="834.36" width="8.1" height="8.1" fill="none" stroke="#000" stroke-width="1.45"/>
<rect x="370.31" y="833.55" width="8.1" height="8.1" fill="none" stroke="#000" stroke-width="1.45"/>
<rect x="375.12" y="832.82" width="8.1" height="8.1" fill="none" stroke="#000" stroke-width="1.45"/>
<rect x="379.93" y="832.30" width="8.1" height="8.1" fill="none" stroke="#000" stroke-width="1.45"/>
<rect x="384.73" y="831.67" width="8.1" height="8.1" fill="none" stroke="#000" stroke-width="1.45"/>
<rect x="389.54" y="831.03" width="8.1" height="8.1" fill="none" stroke="#000" stroke-width="1.45"/>
<rect x="394.35" y="830.40" width="8.1" height="8.1" fill="none" stroke="#000" stroke-width="1.45"/>
<rect x="399.15" y="829.76" width="8.1" height="8.1" fill="none" stroke="#000" stroke-width="1.45"/>
<rect x="403.96" y="829.53" width="8.1" height="8.1" fill="none" stroke="#000" stroke-width="1.45"/>
<rect x="408.77" y="829.29" width="8.1" height="8.1" fill="none" stroke="#000" stroke-width="1.45"/>
<rect x="413.57" y="829.05" width="8.1" height="8.1" fill="none" stroke="#000" stroke-width="1.45"/>
<rect x="418.38" y="828.82" width="8.1" height="8.1" fill="none" stroke="#000" stroke-width="1.45"/>
<rect x="423.19" y="828.68" width="8.1" height="8.1" fill="none" stroke="#000" stroke-width="1.45"/>
<rect x="427.99" y="828.55" width="8.1" height="8.1" fill="none" stroke="#000" stroke-width="1.45"/>
<rect x="432.80" y="828.41" width="8.1" height="8.1" fill="none" stroke="#000" stroke-width="1.45"/>
<rect x="437.61" y="828.55" width="8.1" height="8.1" fill="none" stroke="#000" stroke-width="1.45"/>
<rect x="442.41" y="828.68" width="8.1" height="8.1" fill="none" stroke="#000" stroke-width="1.45"/>
<rect x="447.22" y="828.82" width="8.1" height="8.1" fill="none" stroke="#000" stroke-width="1.45"/>
<rect x="452.03" y="829.42" width="8.1" height="8.1" fill="none" stroke="#000" stroke-width="1.45"/>
<rect x="456.83" y="830.03" width="8.1" height="8.1" fill="none" stroke="#000" stroke-width="1.45"/>
<rect x="461.64" y="830.64" width="8.1" height="8.1" fill="none" stroke="#000" stroke-width="1.45"/>
<rect x="466.45" y="831.25" width="8.1" height="8.1" fill="none" stroke="#000" stroke-width="1.45"/>
<rect x="471.25" y="831.89" width="8.1" height="8.1" fill="none" stroke="#000" stroke-width="1.45"/>
<rect x="476.06" y="832.53" width="8.1" height="8.1" fill="none" stroke="#000" stroke-width="1.45"/>
<rect x="480.87" y="833.17" width="8.1" height="8.1" fill="none" stroke="#000" stroke-width="1.45"/>
<rect x="485.68" y="833.82" width="8.1" height="8.1" fill="none" stroke="#000" stroke-width="1.45"/>
<rect x="490.48" y="834.42" width="8.1" height="8.1" fill="none" stroke="#000" stroke-width="1.45"/>
<rect x="495.29" y="835.03" width="8.1" height="8.1" fill="none" stroke="#000" stroke-width="1.45"/>
<rect x="500.10" y="835.64" width="8.1" height="8.1" fill="none" stroke="#000" stroke-width="1.45"/>
<rect x="504.90" y="836.25" width="8.1" height="8.1" fill="none" stroke="#000" stroke-width="1.45"/>
<rect x="509.71" y="836.99" width="8.1" height="8.1" fill="none" stroke="#000" stroke-width="1.45"/>
<rect x="514.52" y="837.74" width="8.1" height="8.1" fill="none" stroke="#000" stroke-width="1.45"/>
<rect x="519.32" y="838.48" width="8.1" height="8.1" fill="none" stroke="#000" stroke-width="1.45"/>
<rect x="524.13" y="839.22" width="8.1" height="8.1" fill="none" stroke="#000" stroke-width="1.45"/>
<rect x="528.94" y="840.03" width="8.1" height="8.1" fill="none" stroke="#000" stroke-width="1.45"/>
<rect x="533.74" y="840.84" width="8.1" height="8.1" fill="none" stroke="#000" stroke-width="1.45"/>
<rect x="538.55" y="841.66" width="8.1" height="8.1" fill="none" stroke="#000" stroke-width="1.45"/>
<rect x="543.36" y="842.47" width="8.1" height="8.1" fill="none" stroke="#000" stroke-width="1.45"/>
<rect x="548.16" y="843.21" width="8.1" height="8.1" fill="none" stroke="#000" stroke-width="1.45"/>
<rect x="552.97" y="843.95" width="8.1" height="8.1" fill="none" stroke="#000" stroke-width="1.45"/>
<rect x="557.78" y="844.70" width="8.1" height="8.1" fill="none" stroke="#000" stroke-width="1.45"/>
<rect x="562.58" y="845.44" width="8.1" height="8.1" fill="none" stroke="#000" stroke-width="1.45"/>
<rect x="567.39" y="846.18" width="8.1" height="8.1" fill="none" stroke="#000" stroke-width="1.45"/>
<rect x="572.20" y="846.93" width="8.1" height="8.1" fill="none" stroke="#000" stroke-width="1.45"/>
<rect x="577.00" y="847.67" width="8.1" height="8.1" fill="none" stroke="#000" stroke-width="1.45"/>
<rect x="581.81" y="848.41" width="8.1" height="8.1" fill="none" stroke="#000" stroke-width="1.45"/>
<rect x="586.62" y="849.31" width="8.1" height="8.1" fill="none" stroke="#000" stroke-width="1.45"/>
<rect x="591.42" y="850.21" width="8.1" height="8.1" fill="none" stroke="#000" stroke-width="1.45"/>
<rect x="596.23" y="851.12" width="8.1" height="8.1" fill="none" stroke="#000" stroke-width="1.45"/>
<rect x="601.04" y="852.11" width="8.1" height="8.1" fill="none" stroke="#000" stroke-width="1.45"/>
<rect x="605.84" y="853.10" width="8.1" height="8.1" fill="none" stroke="#000" stroke-width="1.45"/>
<rect x="610.65" y="854.09" width="8.1" height="8.1" fill="none" stroke="#000" stroke-width="1.45"/>
<path d="M114.80 1003.43L119.70 1008.43L114.80 1013.43L109.90 1008.43Z" fill="#000"/>
<path d="M119.61 1003.37L124.51 1008.37L119.61 1013.37L114.71 1008.37Z" fill="#000"/>
<path d="M124.41 1003.32L129.31 1008.32L124.41 1013.32L119.51 1008.32Z" fill="#000"/>
<path d="M129.22 1003.26L134.12 1008.26L129.22 1013.26L124.32 1008.26Z" fill="#000"/>
<path d="M134.03 1003.21L138.93 1008.21L134.03 1013.21L129.13 1008.21Z" fill="#000"/>
<path d="M138.83 1003.16L143.73 1008.16L138.83 1013.16L133.93 1008.16Z" fill="#000"/>
<path d="M143.64 1003.10L148.54 1008.10L143.64 1013.10L138.74 1008.10Z" fill="#000"/>
<path d="M148.45 1003.05L153.35 1008.05L148.45 1013.05L143.55 1008.05Z" fill="#000"/>
<path d="M153.25 1002.99L158.15 1007.99L153.25 1012.99L148.35 1007.99Z" fill="#000"/>
<path d="M158.06 1002.94L162.96 1007.94L158.06 1012.94L153.16 1007.94Z" fill="#000"/>
<path d="M162.87 1002.89L167.77 1007.89L162.87 1012.89L157.97 1007.89Z" fill="#000"/>
<path d="M167.67 1002.80L172.57 1007.80L167.67 1012.80L162.77 1007.80Z" fill="#000"/>
<path d="M172.48 1002.70L177.38 1007.70L172.48 1012.70L167.58 1007.70Z" fill="#000"/>
<path d="M177.29 1002.61L182.19 1007.61L177.29 1012.61L172.39 1007.61Z" fill="#000"/>
<path d="M182.09 1002.52L186.99 1007.52L182.09 1012.52L177.19 1007.52Z" fill="#000"/>
<path d="M186.90 1002.43L191.80 1007.43L186.90 1012.43L182.00 1007.43Z" fill="#000"/>
<path d="M191.71 1002.34L196.61 1007.34L191.71 1012.34L186.81 1007.34Z" fill="#000"/>
<path d="M196.51 1002.25L201.41 1007.25L196.51 1012.25L191.61 1007.25Z" fill="#000"/>
<path d="M201.32 1002.16L206.22 1007.16L201.32 1012.16L196.42 1007.16Z" fill="#000"/>
<path d="M206.13 1002.07L211.03 1007.07L206.13 1012.07L201.23 1007.07Z" fill="#000"/>
<path d="M210.93 1001.98L215.83 1006.98L210.93 1011.98L206.03 1006.98Z" fill="#000"/>
<path d="M215.74 1001.89L220.64 1006.89L215.74 1011.89L210.84 1006.89Z" fill="#000"/>
<path d="M220.55 1001.80L225.45 1006.80L220.55 1011.80L215.65 1006.80Z" fill="#000"/>
<path d="M225.35 1001.71L230.25 1006.71L225.35 1011.71L220.45 1006.71Z" fill="#000"/>
<path d="M230.16 1001.62L235.06 1006.62L230.16 1011.62L225.26 1006.62Z" fill="#000"/>
<path d="M234.97 1001.53L239.87 1006.53L234.97 1011.53L230.07 1006.53Z" fill="#000"/>
<path d="M239.78 1001.44L244.68 1006.44L239.78 1011.44L234.88 1006.44Z" fill="#000"/>
<path d="M244.58 1001.34L249.48 1006.34L244.58 1011.34L239.68 1006.34Z" fill="#000"/>
<path d="M249.39 1001.24L254.29 1006.24L249.39 1011.24L244.49 1006.24Z" fill="#000"/>
<path d="M254.20 1001.14L259.10 1006.14L254.20 1011.14L249.30 1006.14Z" fill="#000"/>
<path d="M259.00 1001.05L263.90 1006.05L259.00 1011.05L254.10 1006.05Z" fill="#000"/>
<path d="M263.81 1001.05L268.71 1006.05L263.81 1011.05L258.91 1006.05Z" fill="#000"/>
<path d="M268.62 1001.05L273.52 1006.05L268.62 1011.05L263.72 1006.05Z" fill="#000"/>
<path d="M273.42 1001.05L278.32 1006.05L273.42 1011.05L268.52 1006.05Z" fill="#000"/>
<path d="M278.23 1001.05L283.13 1006.05L278.23 1011.05L273.33 1006.05Z" fill="#000"/>
<path d="M283.04 1001.05L287.94 1006.05L283.04 1011.05L278.14 1006.05Z" fill="#000"/>
<path d="M287.84 1001.05L292.74 1006.05L287.84 1011.05L282.94 1006.05Z" fill="#000"/>
<path d="M292.65 1001.05L297.55 1006.05L292.65 1011.05L287.75 1006.05Z" fill="#000"/>
<path d="M297.46 1001.05L302.36 1006.05L297.46 1011.05L292.56 1006.05Z" fill="#000"/>
<path d="M302.26 1001.05L307.16 1006.05L302.26 1011.05L297.36 1006.05Z" fill="#000"/>
<path d="M307.07 1001.05L311.97 1006.05L307.07 1011.05L302.17 1006.05Z" fill="#000"/>
<path d="M311.88 1001.05L316.78 1006.05L311.88 1011.05L306.98 1006.05Z" fill="#000"/>
<path d="M316.68 1001.05L321.58 1006.05L316.68 1011.05L311.78 1006.05Z" fill="#000"/>
<path d="M321.49 1001.05L326.39 1006.05L321.49 1011.05L316.59 1006.05Z" fill="#000"/>
<path d="M326.30 1001.05L331.20 1006.05L326.30 1011.05L321.40 1006.05Z" fill="#000"/>
<path d="M331.10 1001.05L336.00 1006.05L331.10 1011.05L326.20 1006.05Z" fill="#000"/>
<path d="M335.91 1001.05L340.81 1006.05L335.91 1011.05L331.01 1006.05Z" fill="#000"/>
<path d="M340.72 1001.05L345.62 1006.05L340.72 1011.05L335.82 1006.05Z" fill="#000"/>
<path d="M345.52 1001.05L350.42 1006.05L345.52 1011.05L340.62 1006.05Z" fill="#000"/>
<path d="M350.33 1001.05L355.23 1006.05L350.33 1011.05L345.43 1006.05Z" fill="#000"/>
<path d="M355.14 1001.05L360.04 1006.05L355.14 1011.05L350.24 1006.05Z" fill="#000"/>
<path d="M359.94 1001.05L364.84 1006.05L359.94 1011.05L355.04 1006.05Z" fill="#000"/>
<path d="M364.75 1001.05L369.65 1006.05L364.75 1011.05L359.85 1006.05Z" fill="#000"/>
<path d="M369.56 1001.05L374.46 1006.05L369.56 1011.05L364.66 1006.05Z" fill="#000"/>
<path d="M374.36 1001.05L379.26 1006.05L374.36 1011.05L369.46 1006.05Z" fill="#000"/>
<path d="M379.17 1001.05L384.07 1006.05L379.17 1011.05L374.27 1006.05Z" fill="#000"/>
<path d="M383.98 1001.05L388.88 1006.05L383.98 1011.05L379.08 1006.05Z" fill="#000"/>
<path d="M388.78 1001.05L393.68 1006.05L388.78 1011.05L383.88 1006.05Z" fill="#000"/>
<path d="M393.59 1001.05L398.49 1006.05L393.59 1011.05L388.69 1006.05Z" fill="#000"/>
<path d="M398.40 1001.05L403.30 1006.05L398.40 1011.05L393.50 1006.05Z" fill="#000"/>
<path d="M403.20 1001.05L408.10 1006.05L403.20 1011.05L398.30 1006.05Z" fill="#000"/>
<path d="M408.01 1001.05L412.91 1006.05L408.01 1011.05L403.11 1006.05Z" fill="#000"/>
<path d="M412.82 1001.05L417.72 1006.05L412.82 1011.05L407.92 1006.05Z" fill="#000"/>
<path d="M417.62 1001.05L422.52 1006.05L417.62 1011.05L412.72 1006.05Z" fill="#000"/>
<path d="M422.43 1001.05L427.33 1006.05L422.43 1011.05L417.53 1006.05Z" fill="#000"/>
<path d="M427.24 999.37L432.14 1004.37L427.24 1009.37L422.34 1004.37Z" fill="#000"/>
<path d="M432.04 992.34L436.94 997.34L432.04 1002.34L427.14 997.34Z" fill="#000"/>
<path d="M436.85 981.80L441.75 986.80L436.85 991.80L431.95 986.80Z" fill="#000"/>
<path d="M441.66 969.77L446.56 974.77L441.66 979.77L436.76 974.77Z" fill="#000"/>
<path d="M446.46 954.23L451.36 959.23L446.46 964.23L441.56 959.23Z" fill="#000"/>
<path d="M451.27 938.01L456.17 943.01L451.27 948.01L446.37 943.01Z" fill="#000"/>
<path d="M456.08 924.77L460.98 929.77L456.08 934.77L451.18 929.77Z" fill="#000"/>
<path d="M460.88 914.77L465.78 919.77L460.88 924.77L455.98 919.77Z" fill="#000"/>
<path d="M465.69 906.39L470.59 911.39L465.69 916.39L460.79 911.39Z" fill="#000"/>
<path d="M470.50 900.98L475.40 905.98L470.50 910.98L465.60 905.98Z" fill="#000"/>
<path d="M475.30 895.93L480.20 900.93L475.30 905.93L470.40 900.93Z" fill="#000"/>
<path d="M480.11 891.68L485.01 896.68L480.11 901.68L475.21 896.68Z" fill="#000"/>
<path d="M484.92 887.74L489.82 892.74L484.92 897.74L480.02 892.74Z" fill="#000"/>
<path d="M489.73 884.76L494.63 889.76L489.73 894.76L484.83 889.76Z" fill="#000"/>
<path d="M494.53 881.79L499.43 886.79L494.53 891.79L489.63 886.79Z" fill="#000"/>
<path d="M499.34 879.17L504.24 884.17L499.34 889.17L494.44 884.17Z" fill="#000"/>
<path d="M504.15 877.20L509.05 882.20L504.15 887.20L499.25 882.20Z" fill="#000"/>
<path d="M508.95 875.41L513.85 880.41L508.95 885.41L504.05 880.41Z" fill="#000"/>
<path d="M513.76 873.95L518.66 878.95L513.76 883.95L508.86 878.95Z" fill="#000"/>
<path d="M518.57 872.87L523.47 877.87L518.57 882.87L513.67 877.87Z" fill="#000"/>
<path d="M523.37 872.06L528.27 877.06L523.37 882.06L518.47 877.06Z" fill="#000"/>
<path d="M528.18 871.52L533.08 876.52L528.18 881.52L523.28 876.52Z" fill="#000"/>
<path d="M532.99 871.25L537.89 876.25L532.99 881.25L528.09 876.25Z" fill="#000"/>
<path d="M537.79 870.98L542.69 875.98L537.79 880.98L532.89 875.98Z" fill="#000"/>
<path d="M542.60 870.84L547.50 875.84L542.60 880.84L537.70 875.84Z" fill="#000"/>
<path d="M547.41 870.71L552.31 875.71L547.41 880.71L542.51 875.71Z" fill="#000"/>
<path d="M552.21 870.62L557.11 875.62L552.21 880.62L547.31 875.62Z" fill="#000"/>
<path d="M557.02 870.53L561.92 875.53L557.02 880.53L552.12 875.53Z" fill="#000"/>
<path d="M561.83 870.44L566.73 875.44L561.83 880.44L556.93 875.44Z" fill="#000"/>
<path d="M566.63 870.53L571.53 875.53L566.63 880.53L561.73 875.53Z" fill="#000"/>
<path d="M571.44 870.62L576.34 875.62L571.44 880.62L566.54 875.62Z" fill="#000"/>
<path d="M576.25 870.71L581.15 875.71L576.25 880.71L571.35 875.71Z" fill="#000"/>
<path d="M581.05 871.11L585.95 876.11L581.05 881.11L576.15 876.11Z" fill="#000"/>
<path d="M585.86 871.52L590.76 876.52L585.86 881.52L580.96 876.52Z" fill="#000"/>
<path d="M590.67 871.92L595.57 876.92L590.67 881.92L585.77 876.92Z" fill="#000"/>
<path d="M595.47 872.33L600.37 877.33L595.47 882.33L590.57 877.33Z" fill="#000"/>
<path d="M600.28 872.87L605.18 877.87L600.28 882.87L595.38 877.87Z" fill="#000"/>
<path d="M605.09 873.41L609.99 878.41L605.09 883.41L600.19 878.41Z" fill="#000"/>
<path d="M609.89 873.95L614.79 878.95L609.89 883.95L604.99 878.95Z" fill="#000"/>
<path d="M614.70 874.49L619.60 879.49L614.70 884.49L609.80 879.49Z" fill="#000"/>
<text transform="translate(98.60,1099.30) scale(1.1700,1)" text-anchor="end" font-size="16.6" stroke="#000" stroke-width="0.6" >0</text>
<text transform="translate(98.60,1072.27) scale(1.1700,1)" text-anchor="end" font-size="16.6" stroke="#000" stroke-width="0.6" >0.1</text>
<g transform="translate(98.60,1072.27) scale(1.1700,1)" fill="#fff"><rect x="-9.12" y="-2.39" width="3.71" height="4.09"/><rect x="-3.24" y="-2.39" width="3.58" height="4.09"/></g>
<text transform="translate(98.60,1045.24) scale(1.1700,1)" text-anchor="end" font-size="16.6" stroke="#000" stroke-width="0.6" >0.2</text>
<text transform="translate(98.60,1018.21) scale(1.1700,1)" text-anchor="end" font-size="16.6" stroke="#000" stroke-width="0.6" >0.3</text>
<text transform="translate(98.60,991.18) scale(1.1700,1)" text-anchor="end" font-size="16.6" stroke="#000" stroke-width="0.6" >0.4</text>
<text transform="translate(98.60,964.15) scale(1.1700,1)" text-anchor="end" font-size="16.6" stroke="#000" stroke-width="0.6" >0.5</text>
<text transform="translate(98.60,937.12) scale(1.1700,1)" text-anchor="end" font-size="16.6" stroke="#000" stroke-width="0.6" >0.6</text>
<text transform="translate(98.60,910.09) scale(1.1700,1)" text-anchor="end" font-size="16.6" stroke="#000" stroke-width="0.6" >0.7</text>
<text transform="translate(98.60,883.06) scale(1.1700,1)" text-anchor="end" font-size="16.6" stroke="#000" stroke-width="0.6" >0.8</text>
<text transform="translate(98.60,856.03) scale(1.1700,1)" text-anchor="end" font-size="16.6" stroke="#000" stroke-width="0.6" >0.9</text>
<text transform="translate(98.60,829.00) scale(1.1700,1)" text-anchor="end" font-size="16.6" stroke="#000" stroke-width="0.6" >1</text>
<g transform="translate(98.60,829.00) scale(1.1700,1)" fill="#fff"><rect x="-9.12" y="-2.39" width="3.71" height="4.09"/><rect x="-3.24" y="-2.39" width="3.58" height="4.09"/></g>
<text transform="translate(109.06,1123.50) scale(1.0408,1)" font-size="17.8" stroke="#000" stroke-width="0.6" fill="#000">0</text>
<text transform="translate(224.69,1123.50) scale(1.0273,1)" font-size="17.8" stroke="#000" stroke-width="0.6" fill="#000">200</text>
<text transform="translate(349.85,1123.50) scale(1.0112,1)" font-size="17.8" stroke="#000" stroke-width="0.6" fill="#000">400</text>
<text transform="translate(474.69,1123.50) scale(1.0273,1)" font-size="17.8" stroke="#000" stroke-width="0.6" fill="#000">600</text>
<text transform="translate(599.29,1123.50) scale(1.0169,1)" font-size="17.8" stroke="#000" stroke-width="0.6" fill="#000">800</text>
<text transform="translate(316.60,1150.00) scale(1.0685,1)" font-size="17.6" stroke="#000" stroke-width="0.55" fill="#000">Time (mins)</text>
<text transform="translate(45.00,1085.11) rotate(-90) scale(1.0139,1)" font-size="22.0" stroke="#000" stroke-width="0.5" >Absorbance (234 - 650 nm)</text>
<text transform="translate(140.30,873.30) scale(1.0104,1)" font-size="30.5" stroke="#000" stroke-width="0.7" fill="#000">(b)</text>
</g>
</svg>
</body></html>
